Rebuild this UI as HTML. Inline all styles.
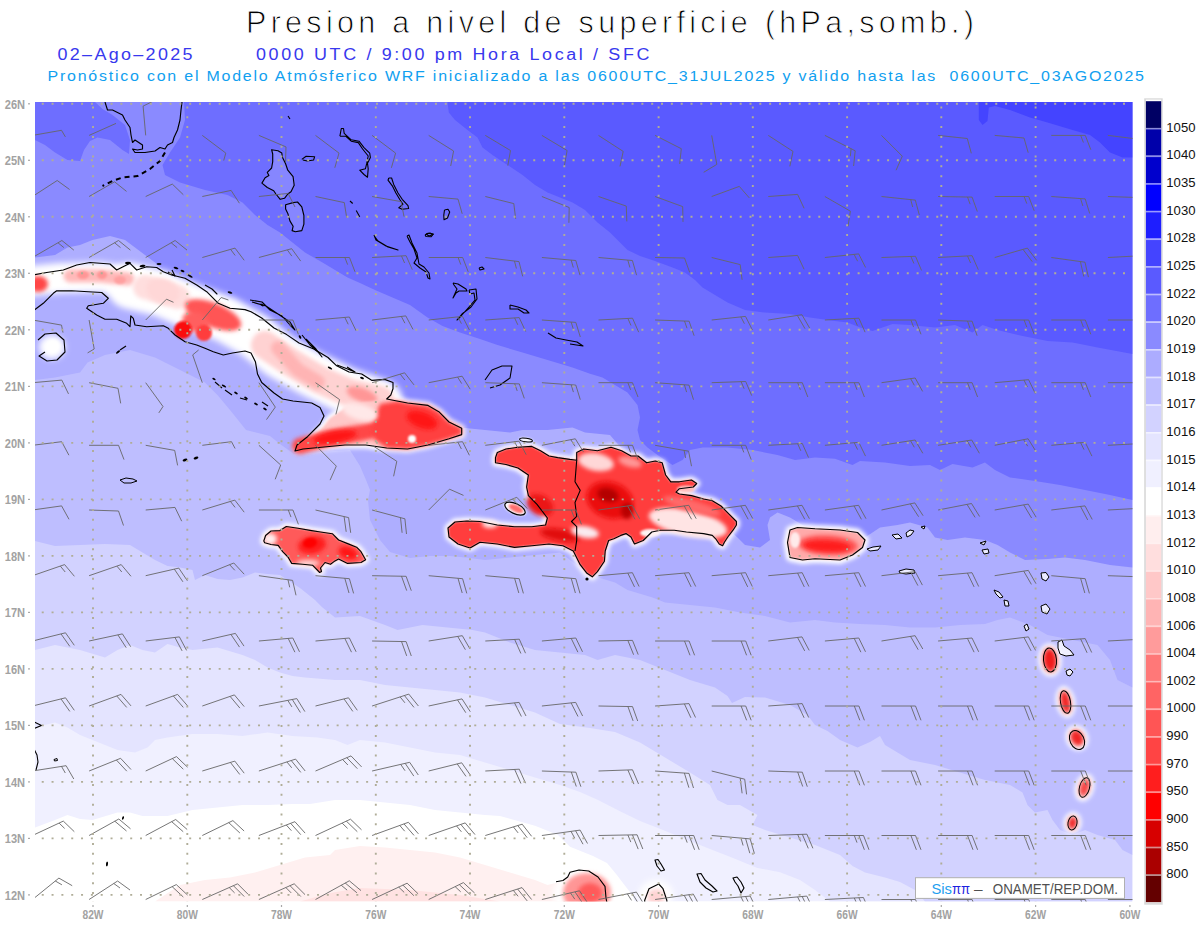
<!DOCTYPE html>
<html><head><meta charset="utf-8"><style>
html,body{margin:0;padding:0;background:#fff;}
svg{display:block;}
text{font-family:"Liberation Sans",sans-serif;}
.ax{font-size:12.5px;fill:#a2a2a2;font-weight:bold;}
.cb{font-size:12.8px;fill:#111;}
</style></head><body>
<svg width="1200" height="927" viewBox="0 0 1200 927">
<defs><filter id="b1" filterUnits="userSpaceOnUse" x="0" y="0" width="1200" height="927"><feGaussianBlur stdDeviation="1.2"/></filter>
<filter id="b2" filterUnits="userSpaceOnUse" x="0" y="0" width="1200" height="927"><feGaussianBlur stdDeviation="2.2"/></filter>
<filter id="b3" filterUnits="userSpaceOnUse" x="0" y="0" width="1200" height="927"><feGaussianBlur stdDeviation="3.2"/></filter>
<filter id="b5" filterUnits="userSpaceOnUse" x="0" y="0" width="1200" height="927"><feGaussianBlur stdDeviation="5"/></filter><clipPath id="mc"><rect x="35" y="102" width="1097.5" height="799.5"/></clipPath></defs>
<g clip-path="url(#mc)">
<rect x="35" y="102" width="1097.5" height="799.5" fill="#fff"/>
<polygon points="155.0,901.5 180.0,885.0 205.0,880.0 230.0,877.5 255.0,872.5 280.0,865.0 305.0,857.5 330.0,855.0 335.0,850.0 360.0,846.0 385.0,847.5 410.0,850.0 435.0,852.5 460.0,857.5 485.0,865.0 510.0,872.5 535.0,880.0 547.5,885.0 560.0,882.0 575.0,901.5" fill="rgb(255,240,240)"/>
<polygon points="300.0,901.5 330.0,893.0 360.0,888.0 410.0,890.0 460.0,895.0 500.0,901.5" fill="rgb(255,226,226)"/>
<polygon points="35.0,102.0 35.0,827.5 55.0,820.0 67.5,815.0 80.0,819.0 92.5,820.0 117.5,812.5 130.0,812.5 142.5,816.0 167.5,816.0 192.5,810.0 217.5,807.5 242.5,805.0 267.5,805.0 292.5,804.0 310.0,804.0 335.0,800.0 360.0,800.0 385.0,802.5 410.0,805.0 435.0,810.0 460.0,812.5 485.0,815.0 500.0,816.0 535.0,825.7 558.0,835.0 570.0,846.7 593.0,856.0 607.0,863.0 616.7,874.7 623.7,884.0 630.7,893.0 635.0,901.5 1132.5,901.5 1132.5,102.0" fill="rgb(240,240,255)"/>
<polygon points="35.0,102.0 35.0,727.5 55.0,722.5 67.5,727.5 80.0,735.0 92.5,740.0 105.0,745.0 117.5,750.0 135.0,752.5 147.5,747.5 155.0,740.0 167.5,737.5 192.5,734.0 217.5,734.0 242.5,736.0 267.5,732.5 292.5,736.0 317.5,737.5 335.0,740.0 347.5,745.0 360.0,740.0 385.0,742.5 410.0,747.5 435.0,752.5 460.0,755.0 485.0,762.5 510.0,770.0 535.0,777.5 560.0,785.0 580.0,792.0 598.0,800.0 621.0,811.7 640.0,821.0 663.0,830.0 686.7,839.7 710.0,849.0 733.0,858.0 756.7,867.7 780.0,872.3 800.0,880.0 815.0,890.0 830.0,901.5 1132.5,901.5 1132.5,102.0" fill="rgb(228,228,255)"/>
<polygon points="35.0,102.0 35.0,650.0 55.0,645.0 80.0,650.0 105.0,657.5 117.5,650.0 130.0,645.0 142.5,650.0 155.0,652.5 167.5,644.0 180.0,647.5 192.5,650.0 217.5,647.5 242.5,655.0 255.0,660.0 267.5,667.5 280.0,672.5 292.5,676.0 305.0,677.5 335.0,680.0 360.0,680.0 385.0,685.0 410.0,687.5 435.0,690.0 460.0,692.5 485.0,697.5 510.0,705.0 535.0,712.5 560.0,724.0 590.0,728.0 615.0,732.0 640.0,742.5 665.0,757.5 690.0,772.5 710.0,785.0 717.5,800.0 727.5,805.0 740.0,805.0 757.5,815.0 752.5,825.0 765.0,830.0 790.0,837.5 815.0,845.0 840.0,855.0 852.5,866.0 865.0,872.5 885.0,877.5 900.0,882.0 915.0,890.0 925.0,901.5 1132.5,901.5 1132.5,102.0" fill="rgb(210,210,255)"/>
<polygon points="35.0,102.0 35.0,541.0 55.0,546.0 80.0,545.0 105.0,544.0 130.0,545.0 142.5,552.5 155.0,560.0 167.5,566.0 180.0,567.5 192.5,570.0 195.0,580.0 205.0,575.0 217.5,579.0 230.0,580.0 242.5,577.5 255.0,572.5 267.5,574.0 280.0,575.0 300.0,588.0 315.0,600.0 322.5,607.5 335.0,617.5 360.0,616.0 385.0,625.0 397.5,630.0 410.0,627.5 422.5,625.0 447.5,627.5 472.5,630.0 485.0,632.5 510.0,642.5 535.0,650.0 560.0,652.5 585.0,655.0 597.5,660.0 615.0,655.0 640.0,660.0 665.0,670.0 690.0,680.0 715.0,687.5 727.5,696.0 732.0,703.0 745.0,697.0 765.0,697.5 790.0,705.0 807.5,715.0 815.0,725.0 827.5,731.0 840.0,740.0 857.5,747.5 870.0,742.0 880.0,736.0 885.0,745.0 897.5,752.5 910.0,760.0 935.0,765.0 960.0,772.5 985.0,780.0 1010.0,785.0 1022.5,792.5 1027.5,805.0 1035.0,812.5 1047.5,810.0 1052.5,820.0 1060.0,830.0 1072.5,835.0 1085.0,830.0 1097.5,835.0 1115.0,840.0 1122.5,850.0 1132.5,855.0 1132.5,102.0" fill="rgb(190,190,255)"/>
<polygon points="35.0,102.0 35.0,380.0 55.0,377.5 80.0,372.5 87.5,362.5 105.0,355.0 130.0,350.0 155.0,357.5 180.0,370.0 205.0,382.5 217.5,395.0 230.0,410.0 246.0,430.0 270.0,436.0 280.0,444.0 294.0,454.0 320.0,452.0 350.0,450.0 360.0,466.0 366.0,480.0 370.0,490.0 368.0,500.0 370.0,520.0 380.0,540.0 390.0,552.0 410.0,558.0 430.0,556.0 450.0,556.0 470.0,558.0 485.0,560.0 510.0,557.5 535.0,555.0 560.0,552.5 590.0,575.0 615.0,582.5 627.5,590.0 652.5,597.5 665.0,602.5 690.0,605.0 715.0,607.5 740.0,612.5 765.0,616.0 790.0,622.5 815.0,620.0 835.0,622.5 860.0,624.0 885.0,625.0 910.0,627.5 935.0,627.5 960.0,625.0 985.0,624.0 997.5,620.0 1010.0,617.5 1030.0,625.0 1047.5,635.0 1072.5,640.0 1097.5,645.0 1110.0,660.0 1117.5,680.0 1132.5,687.5 1132.5,102.0" fill="rgb(174,174,255)"/>
<polygon points="35.0,102.0 35.0,257.5 55.0,255.0 67.5,247.5 80.0,245.0 92.5,240.0 110.0,236.0 125.0,240.0 135.0,247.5 145.0,255.0 155.0,262.5 160.0,267.5 200.0,300.0 250.0,330.0 300.0,370.0 350.0,400.0 400.0,420.0 440.0,425.0 465.0,428.0 485.0,430.0 510.0,432.5 522.5,430.0 547.5,430.0 572.5,427.5 585.0,432.5 610.0,435.0 640.0,470.0 690.0,495.0 737.5,537.5 745.0,545.0 760.0,547.5 770.0,540.0 767.5,525.0 770.0,517.5 777.5,512.5 790.0,517.5 802.5,525.0 830.0,540.0 865.0,537.5 880.0,527.5 897.5,525.0 910.0,522.5 927.5,527.5 935.0,537.5 947.5,540.0 965.0,537.5 985.0,540.0 997.5,545.0 1010.0,552.5 1025.0,560.0 1047.5,559.0 1065.0,557.5 1085.0,560.0 1110.0,565.0 1132.5,567.5 1132.5,102.0" fill="rgb(138,138,255)"/>
<polygon points="184.0,102.0 185.0,120.0 180.0,137.5 170.0,152.5 162.5,165.0 165.0,175.0 180.0,182.5 205.0,190.0 227.5,195.0 242.5,202.5 255.0,215.0 267.5,225.0 280.0,232.5 292.5,242.5 305.0,252.5 322.5,262.5 335.0,270.0 347.5,277.5 360.0,283.0 375.0,290.0 392.5,297.5 410.0,305.0 427.5,317.5 442.5,326.0 460.0,332.5 480.0,339.0 497.5,345.0 522.5,352.5 547.5,360.0 572.5,367.5 590.0,373.8 602.5,377.5 615.0,385.0 627.5,392.5 637.5,405.0 640.0,417.5 637.5,430.0 640.0,440.0 647.5,447.5 657.5,455.0 672.5,465.0 682.5,460.0 690.0,450.0 702.5,447.5 727.5,447.5 752.5,450.0 777.5,455.0 795.0,460.0 815.0,457.5 835.0,458.8 852.5,465.0 860.0,461.0 885.0,462.5 910.0,466.0 930.0,465.0 940.0,470.0 952.5,464.0 972.5,467.5 985.0,462.5 995.0,470.0 1010.0,477.5 1035.0,481.0 1060.0,485.0 1085.0,490.0 1110.0,495.0 1132.5,500.0 1132.5,102.0" fill="rgb(110,110,255)"/>
<polygon points="35.0,102.0 95.0,102.0 102.5,109.0 112.5,115.0 125.0,125.0 130.0,140.0 129.0,154.0 122.5,150.0 110.0,140.0 97.5,137.5 90.0,141.0 84.0,150.0 80.0,161.0 67.5,160.0 55.0,152.5 45.0,145.0 35.0,140.0" fill="rgb(110,110,255)"/>
<polygon points="447.5,102.0 448.8,112.5 455.0,120.0 467.5,130.0 477.5,137.5 482.5,147.5 492.5,155.0 507.5,165.0 522.5,175.0 535.0,185.0 547.5,192.5 560.0,197.5 572.5,202.5 585.0,210.0 597.5,222.5 610.0,232.5 627.5,250.0 640.0,256.0 655.0,261.0 672.5,267.5 685.0,272.5 695.0,280.0 702.5,287.5 715.0,295.0 727.5,302.5 745.0,310.0 765.0,312.5 790.0,314.0 810.0,317.5 835.0,321.0 847.5,322.5 860.0,327.5 872.5,331.0 892.5,324.0 910.0,325.0 935.0,327.5 955.0,325.0 972.5,332.5 982.5,325.0 997.5,330.0 1022.5,336.0 1047.5,341.0 1072.5,342.5 1097.5,347.5 1132.5,354.0 1132.5,102.0" fill="rgb(90,90,255)"/>
<polygon points="978.8,102.0 978.8,120.0 982.5,125.0 987.5,121.0 988.8,107.5 995.0,106.0 1010.0,110.0 1030.0,117.5 1047.5,122.5 1072.5,130.0 1090.0,135.0 1100.0,142.5 1110.0,152.5 1122.5,157.5 1132.5,157.5 1132.5,102.0" fill="rgb(68,68,255)"/>
<path d="M30.0,281.0 L60.0,278.0 L100.0,277.0 L130.0,281.0" fill="none" stroke="#ffffff" stroke-width="30" stroke-linecap="round" stroke-linejoin="round" filter="url(#b3)"/>
<path d="M130.0,286.0 L160.0,293.0 L190.0,306.0 L225.0,319.0 L255.0,336.0 L280.0,356.0 L310.0,373.0 L345.0,390.0 L380.0,402.0" fill="none" stroke="#ffffff" stroke-width="46" stroke-linecap="round" stroke-linejoin="round" filter="url(#b3)"/>
<path d="M297.0,449.0 L310.0,440.0 L322.0,428.0 L330.0,418.0 L345.0,408.0 L365.0,402.0 L385.0,400.0 L397.0,401.0 L407.5,403.0 L428.0,405.4 L438.8,411.7 L449.0,422.0 L461.7,428.3 L461.7,434.6 L449.0,438.8 L428.0,445.0 L407.5,449.0 L386.7,448.0 L365.8,445.0 L345.0,445.0 L324.0,447.0 L303.0,449.0 Z" fill="#ffffff" stroke="#ffffff" stroke-width="7" stroke-linejoin="round" filter="url(#b2)"/>
<path d="M495.5,457.6 L497.3,452.5 L506.0,449.0 L518.0,447.3 L531.8,446.4 L540.5,450.7 L549.0,456.0 L557.7,457.6 L569.8,459.4 L576.7,460.2 L576.7,452.5 L583.6,449.0 L597.4,450.7 L611.0,447.3 L621.6,450.7 L631.0,456.0 L638.0,456.0 L646.6,462.8 L655.3,461.0 L662.2,462.8 L665.6,475.0 L670.8,481.8 L679.4,481.8 L691.5,480.0 L696.7,483.5 L693.3,487.0 L679.4,488.7 L676.0,492.2 L679.4,494.0 L691.5,495.6 L703.6,499.0 L712.3,500.8 L721.0,506.0 L729.5,514.6 L736.4,521.5 L736.4,525.0 L733.0,530.2 L727.8,537.0 L724.4,542.3 L722.6,545.7 L719.2,544.0 L715.7,538.8 L712.3,535.4 L703.6,533.6 L686.4,532.0 L674.3,530.2 L660.4,530.2 L651.8,532.0 L643.2,540.5 L634.5,544.0 L631.0,537.0 L626.0,533.6 L620.7,535.4 L613.8,538.8 L608.6,540.5 L605.2,551.0 L604.4,561.3 L597.4,571.6 L592.3,576.8 L587.0,573.3 L580.2,564.7 L573.3,551.0 L562.9,545.7 L549.0,544.0 L531.8,545.7 L514.5,547.4 L497.3,544.0 L480.0,542.3 L470.0,548.0 L458.0,544.0 L449.0,537.0 L448.0,528.0 L455.0,522.0 L467.0,521.0 L480.0,521.5 L497.3,525.0 L514.5,526.7 L531.8,526.7 L545.6,525.0 L547.4,518.0 L537.0,504.3 L528.4,495.6 L526.6,487.0 L528.4,475.0 L518.0,468.0 L506.0,464.5 L495.5,462.8 Z" fill="#ffffff" stroke="#ffffff" stroke-width="7" stroke-linejoin="round" filter="url(#b2)"/>
<path d="M263.8,541.0 L265.6,535.5 L271.0,531.0 L280.0,530.6 L286.3,526.5 L298.0,528.3 L311.5,530.6 L320.5,532.0 L332.3,533.7 L338.6,540.0 L347.6,543.6 L356.6,547.2 L361.0,551.7 L365.6,559.8 L361.0,562.5 L347.6,563.4 L338.6,559.0 L334.0,561.6 L330.5,564.3 L325.0,562.5 L320.5,568.0 L321.5,571.5 L319.7,572.5 L312.5,565.2 L302.5,564.3 L291.7,563.4 L288.0,557.0 L282.7,551.7 L278.2,545.4 L271.0,544.5 L264.7,542.7 Z" fill="#ffffff" stroke="#ffffff" stroke-width="7" stroke-linejoin="round" filter="url(#b2)"/>
<path d="M790.0,530.0 L797.5,527.5 L815.0,528.8 L840.0,530.0 L857.5,532.5 L865.0,540.0 L862.5,547.5 L852.5,555.0 L840.0,560.0 L815.0,558.8 L802.5,560.0 L790.0,557.5 L787.5,542.5 Z" fill="#ffffff" stroke="#ffffff" stroke-width="8" stroke-linejoin="round" filter="url(#b2)"/>
<ellipse cx="52" cy="347" rx="13" ry="12" transform="rotate(0 52 347)" fill="#ffffff" filter="url(#b3)"/>
<ellipse cx="53" cy="346" rx="6" ry="6" transform="rotate(0 53 346)" fill="#ffffff" filter="url(#b1)"/>
<path d="M70.0,276.0 L100.0,276.0 L128.0,279.0" fill="none" stroke="rgb(255,185,185)" stroke-width="13" stroke-linecap="round" stroke-linejoin="round" filter="url(#b2)"/>
<ellipse cx="83" cy="275" rx="6" ry="4" transform="rotate(0 83 275)" fill="rgb(255,150,150)" filter="url(#b1)"/>
<ellipse cx="102" cy="275" rx="5" ry="4" transform="rotate(0 102 275)" fill="rgb(255,150,150)" filter="url(#b1)"/>
<ellipse cx="120" cy="280" rx="6" ry="4" transform="rotate(0 120 280)" fill="rgb(255,160,160)" filter="url(#b1)"/>
<ellipse cx="38" cy="284" rx="10" ry="8" transform="rotate(0 38 284)" fill="rgb(255,70,70)" filter="url(#b2)"/>
<path d="M145.0,287.0 L178.0,297.0" fill="none" stroke="rgb(255,222,222)" stroke-width="24" stroke-linecap="round" stroke-linejoin="round" filter="url(#b2)"/>
<ellipse cx="163" cy="291" rx="17" ry="12" transform="rotate(20 163 291)" fill="rgb(255,215,215)" filter="url(#b2)"/>
<ellipse cx="213" cy="315" rx="30" ry="12" transform="rotate(22 213 315)" fill="rgb(255,85,85)" filter="url(#b2)"/>
<ellipse cx="196" cy="322" rx="14" ry="10" transform="rotate(20 196 322)" fill="rgb(255,95,95)" filter="url(#b2)"/>
<ellipse cx="183" cy="330" rx="9" ry="9" transform="rotate(0 183 330)" fill="rgb(250,15,15)" filter="url(#b1)"/>
<ellipse cx="204" cy="333" rx="8" ry="8" transform="rotate(0 204 333)" fill="rgb(255,60,60)" filter="url(#b1)"/>
<path d="M265.0,345.0 L290.0,362.0 L320.0,380.0 L350.0,393.0 L380.0,400.0" fill="none" stroke="rgb(255,210,210)" stroke-width="28" stroke-linecap="round" stroke-linejoin="round" filter="url(#b2)"/>
<path d="M278.0,348.0 L298.0,370.0 L318.0,382.0" fill="none" stroke="rgb(255,180,180)" stroke-width="14" stroke-linecap="round" stroke-linejoin="round" filter="url(#b2)"/>
<ellipse cx="362" cy="395" rx="16" ry="7" transform="rotate(20 362 395)" fill="rgb(255,150,150)" filter="url(#b2)"/>
<path d="M297.0,449.0 L310.0,440.0 L322.0,428.0 L330.0,418.0 L345.0,408.0 L365.0,402.0 L385.0,400.0 L397.0,401.0 L407.5,403.0 L428.0,405.4 L438.8,411.7 L449.0,422.0 L461.7,428.3 L461.7,434.6 L449.0,438.8 L428.0,445.0 L407.5,449.0 L386.7,448.0 L365.8,445.0 L345.0,445.0 L324.0,447.0 L303.0,449.0 Z" fill="rgb(255,200,200)" filter="url(#b1)"/>
<path d="M300.0,446.0 L330.0,438.0 L360.0,433.0 L385.0,428.0" fill="none" stroke="rgb(255,70,70)" stroke-width="16" stroke-linecap="round" stroke-linejoin="round" filter="url(#b2)"/>
<path d="M380.0,404.0 L397.0,401.0 L407.5,403.0 L428.0,405.4 L438.8,411.7 L449.0,422.0 L461.7,428.3 L461.7,434.6 L449.0,438.8 L428.0,445.0 L407.5,449.0 L386.7,448.0 L375.0,440.0 L372.0,425.0 Z" fill="rgb(255,65,65)" filter="url(#b2)"/>
<ellipse cx="335" cy="437" rx="22" ry="6" transform="rotate(-10 335 437)" fill="rgb(255,25,25)" filter="url(#b2)"/>
<ellipse cx="422" cy="420" rx="16" ry="8" transform="rotate(20 422 420)" fill="rgb(255,20,20)" filter="url(#b2)"/>
<ellipse cx="412" cy="439" rx="4" ry="4" transform="rotate(0 412 439)" fill="#fff" filter="url(#b1)"/>
<ellipse cx="360" cy="412" rx="18" ry="8" transform="rotate(15 360 412)" fill="rgb(255,232,232)" filter="url(#b2)"/>
<path d="M495.5,457.6 L497.3,452.5 L506.0,449.0 L518.0,447.3 L531.8,446.4 L540.5,450.7 L549.0,456.0 L557.7,457.6 L569.8,459.4 L576.7,460.2 L576.7,452.5 L583.6,449.0 L597.4,450.7 L611.0,447.3 L621.6,450.7 L631.0,456.0 L638.0,456.0 L646.6,462.8 L655.3,461.0 L662.2,462.8 L665.6,475.0 L670.8,481.8 L679.4,481.8 L691.5,480.0 L696.7,483.5 L693.3,487.0 L679.4,488.7 L676.0,492.2 L679.4,494.0 L691.5,495.6 L703.6,499.0 L712.3,500.8 L721.0,506.0 L729.5,514.6 L736.4,521.5 L736.4,525.0 L733.0,530.2 L727.8,537.0 L724.4,542.3 L722.6,545.7 L719.2,544.0 L715.7,538.8 L712.3,535.4 L703.6,533.6 L686.4,532.0 L674.3,530.2 L660.4,530.2 L651.8,532.0 L643.2,540.5 L634.5,544.0 L631.0,537.0 L626.0,533.6 L620.7,535.4 L613.8,538.8 L608.6,540.5 L605.2,551.0 L604.4,561.3 L597.4,571.6 L592.3,576.8 L587.0,573.3 L580.2,564.7 L573.3,551.0 L562.9,545.7 L549.0,544.0 L531.8,545.7 L514.5,547.4 L497.3,544.0 L480.0,542.3 L470.0,548.0 L458.0,544.0 L449.0,537.0 L448.0,528.0 L455.0,522.0 L467.0,521.0 L480.0,521.5 L497.3,525.0 L514.5,526.7 L531.8,526.7 L545.6,525.0 L547.4,518.0 L537.0,504.3 L528.4,495.6 L526.6,487.0 L528.4,475.0 L518.0,468.0 L506.0,464.5 L495.5,462.8 Z" fill="rgb(255,60,60)" filter="url(#b1)"/>
<ellipse cx="610" cy="500" rx="24" ry="18" transform="rotate(20 610 500)" fill="rgb(235,10,10)" filter="url(#b2)"/>
<ellipse cx="608" cy="495" rx="11" ry="7" transform="rotate(15 608 495)" fill="rgb(180,0,0)" filter="url(#b2)"/>
<ellipse cx="627" cy="511" rx="6" ry="8" transform="rotate(0 627 511)" fill="rgb(185,0,0)" filter="url(#b2)"/>
<ellipse cx="560" cy="535" rx="20" ry="6" transform="rotate(10 560 535)" fill="rgb(225,10,10)" filter="url(#b2)"/>
<ellipse cx="596" cy="462" rx="18" ry="9" transform="rotate(10 596 462)" fill="rgb(255,215,215)" filter="url(#b2)"/>
<ellipse cx="630" cy="462" rx="12" ry="5" transform="rotate(15 630 462)" fill="rgb(255,150,150)" filter="url(#b2)"/>
<ellipse cx="585" cy="532" rx="14" ry="6" transform="rotate(10 585 532)" fill="rgb(250,235,240)" filter="url(#b2)"/>
<ellipse cx="490" cy="524" rx="8" ry="4" transform="rotate(0 490 524)" fill="rgb(255,235,235)" filter="url(#b2)"/>
<ellipse cx="688" cy="523" rx="40" ry="13" transform="rotate(12 688 523)" fill="rgb(255,228,228)" filter="url(#b2)"/>
<ellipse cx="692" cy="506" rx="30" ry="6" transform="rotate(16 692 506)" fill="rgb(255,105,105)" filter="url(#b2)"/>
<ellipse cx="686" cy="489" rx="9" ry="3.5" transform="rotate(0 686 489)" fill="rgb(255,190,190)" filter="url(#b1)"/>
<ellipse cx="650" cy="533" rx="10" ry="4" transform="rotate(0 650 533)" fill="rgb(255,242,242)" filter="url(#b1)"/>
<ellipse cx="540" cy="505" rx="14" ry="10" transform="rotate(30 540 505)" fill="rgb(235,25,25)" filter="url(#b2)"/>
<path d="M263.8,541.0 L265.6,535.5 L271.0,531.0 L280.0,530.6 L286.3,526.5 L298.0,528.3 L311.5,530.6 L320.5,532.0 L332.3,533.7 L338.6,540.0 L347.6,543.6 L356.6,547.2 L361.0,551.7 L365.6,559.8 L361.0,562.5 L347.6,563.4 L338.6,559.0 L334.0,561.6 L330.5,564.3 L325.0,562.5 L320.5,568.0 L321.5,571.5 L319.7,572.5 L312.5,565.2 L302.5,564.3 L291.7,563.4 L288.0,557.0 L282.7,551.7 L278.2,545.4 L271.0,544.5 L264.7,542.7 Z" fill="rgb(255,90,90)" filter="url(#b1)"/>
<ellipse cx="270" cy="539" rx="7" ry="6" transform="rotate(0 270 539)" fill="rgb(255,238,238)" filter="url(#b2)"/>
<ellipse cx="312" cy="545" rx="14" ry="9" transform="rotate(-10 312 545)" fill="rgb(255,30,30)" filter="url(#b2)"/>
<ellipse cx="310" cy="543" rx="7" ry="5" transform="rotate(-10 310 543)" fill="rgb(255,0,0)" filter="url(#b1)"/>
<ellipse cx="348" cy="553" rx="10" ry="6" transform="rotate(20 348 553)" fill="rgb(255,20,20)" filter="url(#b2)"/>
<ellipse cx="308" cy="563" rx="12" ry="3" transform="rotate(0 308 563)" fill="rgb(255,220,220)" filter="url(#b2)"/>
<path d="M790.0,530.0 L797.5,527.5 L815.0,528.8 L840.0,530.0 L857.5,532.5 L865.0,540.0 L862.5,547.5 L852.5,555.0 L840.0,560.0 L815.0,558.8 L802.5,560.0 L790.0,557.5 L787.5,542.5 Z" fill="rgb(255,170,170)" filter="url(#b1)"/>
<ellipse cx="828" cy="545" rx="30" ry="10" transform="rotate(3 828 545)" fill="rgb(255,90,90)" filter="url(#b2)"/>
<ellipse cx="827" cy="546" rx="24" ry="6" transform="rotate(3 827 546)" fill="rgb(255,30,30)" filter="url(#b2)"/>
<ellipse cx="795" cy="540" rx="5" ry="8" transform="rotate(0 795 540)" fill="rgb(255,235,235)" filter="url(#b1)"/>
<ellipse cx="515" cy="508.6" rx="12" ry="5.5" transform="rotate(25 515 508.6)" fill="#fff" filter="url(#b1)"/>
<ellipse cx="516" cy="508.6" rx="8" ry="3.5" transform="rotate(25 516 508.6)" fill="rgb(255,110,110)" filter="url(#b1)"/>
<ellipse cx="1050" cy="660" rx="11.5" ry="16.5" transform="rotate(-5 1050 660)" fill="#fff" filter="url(#b2)"/>
<ellipse cx="1050" cy="660" rx="7.0" ry="12.0" transform="rotate(-5 1050 660)" fill="rgb(240,30,30)" filter="url(#b2)"/>
<ellipse cx="1065.5" cy="702" rx="9.5" ry="16" transform="rotate(-10 1065.5 702)" fill="#fff" filter="url(#b2)"/>
<ellipse cx="1065.5" cy="702" rx="5.0" ry="11.5" transform="rotate(-10 1065.5 702)" fill="rgb(240,40,40)" filter="url(#b2)"/>
<ellipse cx="1077" cy="738" rx="11" ry="13" transform="rotate(-25 1077 738)" fill="#fff" filter="url(#b2)"/>
<ellipse cx="1077" cy="738" rx="6.5" ry="8.5" transform="rotate(-25 1077 738)" fill="rgb(240,40,40)" filter="url(#b2)"/>
<ellipse cx="1084.5" cy="787.5" rx="9.5" ry="14" transform="rotate(15 1084.5 787.5)" fill="#fff" filter="url(#b2)"/>
<ellipse cx="1084.5" cy="787.5" rx="5.0" ry="9.5" transform="rotate(15 1084.5 787.5)" fill="rgb(245,70,70)" filter="url(#b2)"/>
<ellipse cx="1072.5" cy="823" rx="9" ry="11" transform="rotate(10 1072.5 823)" fill="#fff" filter="url(#b2)"/>
<ellipse cx="1072.5" cy="823" rx="4.5" ry="6.5" transform="rotate(10 1072.5 823)" fill="rgb(240,40,40)" filter="url(#b2)"/>
<ellipse cx="585" cy="895" rx="32" ry="26" transform="rotate(0 585 895)" fill="#fff" filter="url(#b3)"/>
<ellipse cx="587" cy="893" rx="24" ry="20" transform="rotate(0 587 893)" fill="rgb(255,150,150)" filter="url(#b2)"/>
<ellipse cx="590" cy="893" rx="12" ry="10" transform="rotate(0 590 893)" fill="rgb(255,90,90)" filter="url(#b2)"/>
<ellipse cx="656" cy="895" rx="17" ry="15" transform="rotate(0 656 895)" fill="#fff" filter="url(#b3)"/>
<ellipse cx="656" cy="897" rx="9" ry="8" transform="rotate(0 656 897)" fill="rgb(255,212,212)" filter="url(#b2)"/>
<path d="M271.6,149.7 L278.0,150.8 L281.8,153.0 L282.4,157.3 L285.6,163.7 L287.8,170.2 L293.1,176.7 L294.2,185.3 L291.0,191.8 L287.8,194.0 L284.5,198.3 L280.2,199.3 L275.9,194.0 L273.7,190.7 L267.3,187.5 L261.9,183.1 L265.1,177.8 L268.9,175.6 L267.3,172.4 L271.6,168.0 L272.7,161.6 L272.7,154.0 Z" fill="rgb(134,134,255)" filter="url(#b1)"/>
<path d="M285.6,204.7 L293.1,202.6 L297.5,202.0 L301.8,206.9 L303.9,215.5 L303.9,224.1 L301.8,230.6 L295.3,231.7 L292.1,230.6 L293.1,226.3 L289.9,220.9 L287.8,213.4 L285.6,209.0 Z" fill="rgb(134,134,255)" filter="url(#b1)"/>
<ellipse cx="526" cy="440" rx="7" ry="2.2" transform="rotate(8 526 440)" fill="#fff" filter="url(#b1)"/>
<ellipse cx="526" cy="440" rx="6.5" ry="1.8" transform="rotate(8 526 440)" fill="none" stroke="#000" stroke-width="1"/>
<ellipse cx="128" cy="263" rx="3" ry="1.2" transform="rotate(0 128 263)" fill="#000"/>
<ellipse cx="142.5" cy="266" rx="3" ry="1.2" transform="rotate(-10 142.5 266)" fill="#000"/>
<ellipse cx="159" cy="264" rx="2.5" ry="1" transform="rotate(0 159 264)" fill="#000"/>
<ellipse cx="176" cy="268" rx="2.5" ry="1" transform="rotate(20 176 268)" fill="#000"/>
<ellipse cx="182.5" cy="271" rx="2" ry="1" transform="rotate(20 182.5 271)" fill="#000"/>
<ellipse cx="190" cy="276" rx="3" ry="1" transform="rotate(30 190 276)" fill="#000"/>
<ellipse cx="230" cy="292.5" rx="2.5" ry="1" transform="rotate(20 230 292.5)" fill="#000"/>
<ellipse cx="262" cy="305" rx="2" ry="1" transform="rotate(30 262 305)" fill="#000"/>
<ellipse cx="300" cy="337" rx="2" ry="1" transform="rotate(60 300 337)" fill="#000"/>
<ellipse cx="330" cy="368" rx="2.5" ry="1" transform="rotate(30 330 368)" fill="#000"/>
<ellipse cx="362" cy="378" rx="2" ry="1" transform="rotate(20 362 378)" fill="#000"/>
<ellipse cx="214" cy="379" rx="1.8" ry="1" transform="rotate(30 214 379)" fill="#000"/>
<ellipse cx="224" cy="386" rx="2.5" ry="1" transform="rotate(30 224 386)" fill="#000"/>
<ellipse cx="236" cy="393" rx="2" ry="1" transform="rotate(30 236 393)" fill="#000"/>
<ellipse cx="246" cy="398" rx="2" ry="1" transform="rotate(30 246 398)" fill="#000"/>
<ellipse cx="256" cy="404" rx="2" ry="1" transform="rotate(30 256 404)" fill="#000"/>
<ellipse cx="265" cy="409" rx="2" ry="1" transform="rotate(30 265 409)" fill="#000"/>
<ellipse cx="118" cy="352" rx="2.5" ry="1" transform="rotate(-40 118 352)" fill="#000"/>
<path d="M34.0,722.0 L41.5,725.5 L34.0,728.5" fill="none" stroke="#000" stroke-width="1.1" stroke-linejoin="round"/>
<path d="M34.0,749.0 L37.0,755.0 L38.0,762.0 L36.0,770.0" fill="none" stroke="#000" stroke-width="1.1" stroke-linejoin="round"/>
<path d="M120.0,480.0 L126.0,478.0 L133.0,479.0 L137.0,481.0 L131.0,483.0 L124.0,483.0 Z" fill="none" stroke="#000" stroke-width="1.0" stroke-linejoin="round"/>
<path d="M54.0,759.5 L57.0,758.5 L57.5,760.5 L54.5,761.0 Z" fill="none" stroke="#000" stroke-width="1.0" stroke-linejoin="round"/>
<ellipse cx="185" cy="460" rx="2.5" ry="1.2" transform="rotate(-20 185 460)" fill="#000"/>
<ellipse cx="196" cy="458" rx="2.5" ry="1.2" transform="rotate(-20 196 458)" fill="#000"/>
<ellipse cx="107" cy="864" rx="1" ry="2.4" transform="rotate(10 107 864)" fill="#000"/>
<ellipse cx="123" cy="818" rx="0.9" ry="1.8" transform="rotate(20 123 818)" fill="#000"/>
<ellipse cx="587" cy="579" rx="1.6" ry="1.6" transform="rotate(0 587 579)" fill="#000"/>
<path d="M339.9,136.2 L341.3,128.5 L343.5,128.5 L344.2,133.4 L351.2,139.8 L359.0,141.2 L364.0,147.6 L369.7,153.2 L370.4,157.5 L367.5,163.2 L368.2,168.8 L367.5,177.3 L364.0,174.5 L359.7,170.2 L365.4,168.8 L366.8,163.2 L368.2,156.0 L362.6,149.0 L358.3,142.6 L351.2,141.2 L345.6,136.2 L339.9,136.2" fill="none" stroke="#000" stroke-width="1.1" stroke-linejoin="round"/>
<path d="M388.8,178.0 L391.6,178.0 L393.7,184.4 L398.0,193.0 L402.2,199.3 L408.0,205.7 L408.6,208.5 L402.2,209.2 L398.7,207.8 L403.0,204.2 L400.1,200.0 L395.9,193.0 L392.3,185.8 L388.0,180.2 L388.8,178.0" fill="none" stroke="#000" stroke-width="1.1" stroke-linejoin="round"/>
<path d="M444.5,210.0 L448.0,209.2 L449.7,212.0 L447.5,218.0 L444.0,219.8 L443.8,215.0 L444.5,210.0" fill="none" stroke="#000" stroke-width="1.1" stroke-linejoin="round"/>
<path d="M425.0,235.0 L428.0,233.3 L433.4,234.0 L431.0,236.8 L426.0,236.5 L425.0,235.0" fill="none" stroke="#000" stroke-width="1.1" stroke-linejoin="round"/>
<path d="M374.0,235.0 L376.0,240.0 L386.0,246.0 L398.0,250.0 L388.0,247.0 L378.0,241.0 L375.0,237.0" fill="none" stroke="#000" stroke-width="1.1" stroke-linejoin="round"/>
<path d="M407.0,236.0 L409.0,235.0 L412.0,243.0 L417.0,253.0 L419.0,264.0 L424.0,267.0 L429.0,273.0 L430.0,279.0 L428.0,278.0 L426.0,272.0 L420.0,268.0 L414.0,263.0 L417.0,258.0 L414.0,249.0 L410.0,242.0 L407.0,236.0" fill="none" stroke="#000" stroke-width="1.1" stroke-linejoin="round"/>
<path d="M426.0,234.0 L430.0,233.0 L433.0,234.5 L429.0,236.0 L426.0,234.0" fill="none" stroke="#000" stroke-width="1.1" stroke-linejoin="round"/>
<path d="M479.0,268.0 L482.0,267.0 L484.0,269.0 L480.0,270.0 L479.0,268.0" fill="none" stroke="#000" stroke-width="1.1" stroke-linejoin="round"/>
<path d="M453.0,283.0 L458.0,284.0 L466.0,289.0 L467.0,291.0 L459.0,291.0 L456.0,293.0 L453.0,298.0 L457.0,289.0 L454.0,285.0 L453.0,283.0" fill="none" stroke="#000" stroke-width="1.1" stroke-linejoin="round"/>
<path d="M469.0,290.0 L476.0,289.0 L477.0,299.0 L471.0,307.0 L462.0,314.0 L457.0,320.0 L461.0,316.0 L469.0,307.0 L475.0,300.0 L474.0,293.0 L470.0,294.0 L469.0,290.0" fill="none" stroke="#000" stroke-width="1.1" stroke-linejoin="round"/>
<path d="M510.0,305.0 L518.0,307.0 L526.0,310.0 L529.0,313.0 L524.0,313.0 L518.0,309.0 L510.0,309.0 L510.0,305.0" fill="none" stroke="#000" stroke-width="1.1" stroke-linejoin="round"/>
<path d="M168.0,272.0 L175.0,276.0 L172.0,270.0" fill="none" stroke="#000" stroke-width="1.1" stroke-linejoin="round"/>
<path d="M205.0,285.0 L212.0,289.0 L217.0,294.0 L213.0,290.0" fill="none" stroke="#000" stroke-width="1.1" stroke-linejoin="round"/>
<path d="M250.0,300.0 L262.0,302.0 L270.0,310.0 L282.0,316.0 L290.0,325.0 L295.0,330.0 L290.0,322.0 L278.0,314.0 L266.0,306.0 L252.0,302.0" fill="none" stroke="#000" stroke-width="1.1" stroke-linejoin="round"/>
<path d="M302.0,335.0 L310.0,345.0 L318.0,352.0 L322.0,357.0 L316.0,349.0 L306.0,339.0" fill="none" stroke="#000" stroke-width="1.1" stroke-linejoin="round"/>
<path d="M337.0,365.0 L345.0,368.0 L355.0,372.0 L347.0,367.0" fill="none" stroke="#000" stroke-width="1.1" stroke-linejoin="round"/>
<path d="M38.0,340.0 L45.0,334.0 L56.0,333.0 L64.0,340.0 L65.0,352.0 L57.0,360.0 L47.0,361.0 L39.0,356.0 L45.0,352.0" fill="none" stroke="#000" stroke-width="1.1" stroke-linejoin="round"/>
<path d="M120.0,350.0 L126.0,346.0" fill="none" stroke="#000" stroke-width="1.1" stroke-linejoin="round"/>
<path d="M215.0,382.0 L222.0,388.0" fill="none" stroke="#000" stroke-width="1.1" stroke-linejoin="round"/>
<path d="M225.0,390.0 L232.0,395.0" fill="none" stroke="#000" stroke-width="1.1" stroke-linejoin="round"/>
<path d="M240.0,398.0 L247.0,400.0" fill="none" stroke="#000" stroke-width="1.1" stroke-linejoin="round"/>
<path d="M262.0,402.0 L268.0,406.0" fill="none" stroke="#000" stroke-width="1.1" stroke-linejoin="round"/>
<path d="M301.8,159.4 L306.1,156.2 L314.7,156.7 L313.6,160.0 L307.2,161.0 L302.9,160.0" fill="none" stroke="#000" stroke-width="1.1" stroke-linejoin="round"/>
<path d="M288.0,116.0 L290.0,119.0" fill="none" stroke="#000" stroke-width="1.1" stroke-linejoin="round"/>
<path d="M350.0,201.0 L352.7,203.5" fill="none" stroke="#000" stroke-width="1.1" stroke-linejoin="round"/>
<path d="M356.2,210.6 L359.7,216.7" fill="none" stroke="#000" stroke-width="1.1" stroke-linejoin="round"/>
<path d="M485.0,380.0 L492.0,370.0 L502.0,366.0 L512.0,366.0 L510.0,378.0 L500.0,385.0 L490.0,388.0" fill="none" stroke="#000" stroke-width="1.1" stroke-linejoin="round"/>
<path d="M548.0,333.0 L556.0,338.0 L566.0,340.0 L577.0,342.0 L583.0,346.0 L570.0,344.0" fill="none" stroke="#000" stroke-width="1.1" stroke-linejoin="round"/>
<path d="M33.0,275.0 L46.7,272.5 L63.3,270.0 L76.7,265.0 L90.0,262.5 L110.0,264.0 L116.7,270.0 L130.0,263.3 L136.7,270.0 L146.7,266.7 L156.7,267.5 L163.3,271.7 L171.7,275.0 L185.0,278.3 L196.7,285.0 L206.7,291.7 L218.3,303.3 L230.0,308.3 L245.0,309.6 L251.0,311.7 L261.7,318.0 L274.0,328.0 L286.7,334.6 L299.0,343.0 L313.8,349.0 L328.0,357.5 L336.7,365.8 L349.0,372.0 L361.7,374.0 L372.0,380.4 L384.6,379.4 L393.0,382.5 L393.0,388.8 L390.8,395.0 L386.7,399.0 L397.0,401.0 L407.5,403.0 L428.0,405.4 L438.8,411.7 L449.0,422.0 L461.7,428.3 L461.7,434.6 L449.0,438.8 L428.0,445.0 L418.0,447.0 L407.5,449.0 L386.7,448.0 L365.8,445.0 L345.0,445.0 L324.0,447.0 L303.0,449.0 L295.0,451.0 L297.0,445.0 L307.5,436.7 L320.0,424.0 L324.0,416.0 L320.0,407.5 L311.7,403.0 L293.0,401.0 L282.5,399.0 L274.0,393.0 L261.7,382.5 L257.5,374.0 L255.4,361.7 L251.0,353.0 L245.0,351.0 L232.5,353.0 L223.3,355.0 L213.3,351.7 L205.0,348.3 L196.7,345.0 L185.0,341.7 L175.0,335.0 L168.3,328.3 L163.3,325.8 L146.7,326.7 L135.0,325.0 L133.3,318.3 L130.8,315.8 L130.0,326.7 L126.7,323.3 L116.7,319.2 L105.0,319.2 L96.7,315.0 L86.7,308.3 L88.3,305.8 L103.3,303.3 L108.3,298.3 L101.7,292.5 L88.3,291.7 L71.7,290.8 L56.7,290.8 L53.3,293.3 L43.3,303.3 L33.0,311.0 Z" fill="none" stroke="#000" stroke-width="1.15" stroke-linejoin="round"/>
<path d="M495.5,457.6 L497.3,452.5 L506.0,449.0 L518.0,447.3 L531.8,446.4 L540.5,450.7 L549.0,456.0 L557.7,457.6 L569.8,459.4 L576.7,460.2 L576.7,452.5 L583.6,449.0 L597.4,450.7 L611.0,447.3 L621.6,450.7 L631.0,456.0 L638.0,456.0 L646.6,462.8 L655.3,461.0 L662.2,462.8 L665.6,475.0 L670.8,481.8 L679.4,481.8 L691.5,480.0 L696.7,483.5 L693.3,487.0 L679.4,488.7 L676.0,492.2 L679.4,494.0 L691.5,495.6 L703.6,499.0 L712.3,500.8 L721.0,506.0 L729.5,514.6 L736.4,521.5 L736.4,525.0 L733.0,530.2 L727.8,537.0 L724.4,542.3 L722.6,545.7 L719.2,544.0 L715.7,538.8 L712.3,535.4 L703.6,533.6 L686.4,532.0 L674.3,530.2 L660.4,530.2 L651.8,532.0 L643.2,540.5 L634.5,544.0 L631.0,537.0 L626.0,533.6 L620.7,535.4 L613.8,538.8 L608.6,540.5 L605.2,551.0 L604.4,561.3 L597.4,571.6 L592.3,576.8 L587.0,573.3 L580.2,564.7 L573.3,551.0 L562.9,545.7 L549.0,544.0 L531.8,545.7 L514.5,547.4 L497.3,544.0 L480.0,542.3 L470.0,548.0 L458.0,544.0 L449.0,537.0 L448.0,528.0 L455.0,522.0 L467.0,521.0 L480.0,521.5 L497.3,525.0 L514.5,526.7 L531.8,526.7 L545.6,525.0 L547.4,518.0 L537.0,504.3 L528.4,495.6 L526.6,487.0 L528.4,475.0 L518.0,468.0 L506.0,464.5 L495.5,462.8 Z" fill="none" stroke="#000" stroke-width="1.15" stroke-linejoin="round"/>
<path d="M576.7,460.2 L575.0,481.8 L580.2,490.4 L575.0,502.5 L576.7,516.4 L571.5,521.5 L576.7,526.7 L576.7,540.5 L575.0,551.0" fill="none" stroke="#000" stroke-width="1.1" stroke-linejoin="round"/>
<path d="M263.8,541.0 L265.6,535.5 L271.0,531.0 L280.0,530.6 L286.3,526.5 L298.0,528.3 L311.5,530.6 L320.5,532.0 L332.3,533.7 L338.6,540.0 L347.6,543.6 L356.6,547.2 L361.0,551.7 L365.6,559.8 L361.0,562.5 L347.6,563.4 L338.6,559.0 L334.0,561.6 L330.5,564.3 L325.0,562.5 L320.5,568.0 L321.5,571.5 L319.7,572.5 L312.5,565.2 L302.5,564.3 L291.7,563.4 L288.0,557.0 L282.7,551.7 L278.2,545.4 L271.0,544.5 L264.7,542.7 Z" fill="none" stroke="#000" stroke-width="1.15" stroke-linejoin="round"/>
<path d="M790.0,530.0 L797.5,527.5 L815.0,528.8 L840.0,530.0 L857.5,532.5 L865.0,540.0 L862.5,547.5 L852.5,555.0 L840.0,560.0 L815.0,558.8 L802.5,560.0 L790.0,557.5 L787.5,542.5 Z" fill="none" stroke="#000" stroke-width="1.15" stroke-linejoin="round"/>
<path d="M105.0,102.0 L107.5,110.0 L112.5,110.0 L122.5,115.0 L125.0,120.0 L130.0,127.5 L131.0,135.0 L132.5,142.5 L135.0,140.0 L142.5,145.0 L142.5,149.0 L137.5,150.0 L132.5,149.0 L135.0,152.5 L145.0,152.5 L155.0,151.0 L160.0,147.5 L165.0,149.0 L167.5,145.0 L172.5,142.5 L174.0,137.5 L177.5,130.0 L180.0,120.0 L181.0,110.0 L182.0,102.0" fill="none" stroke="#000" stroke-width="1.15" stroke-linejoin="round"/>
<path d="M165.0,152.5 L160.0,161.0 L150.0,169.0 L137.5,176.0 L122.5,177.5 L112.5,181.0 L102.5,186.0" fill="none" stroke="#000" stroke-width="2" stroke-dasharray="5 4"/>
<path d="M271.6,149.7 L278.0,150.8 L281.8,153.0 L282.4,157.3 L285.6,163.7 L287.8,170.2 L293.1,176.7 L294.2,185.3 L291.0,191.8 L287.8,194.0 L284.5,198.3 L280.2,199.3 L275.9,194.0 L273.7,190.7 L267.3,187.5 L261.9,183.1 L265.1,177.8 L268.9,175.6 L267.3,172.4 L271.6,168.0 L272.7,161.6 L272.7,154.0 Z" fill="none" stroke="#000" stroke-width="1.15" stroke-linejoin="round"/>
<path d="M285.6,204.7 L293.1,202.6 L297.5,202.0 L301.8,206.9 L303.9,215.5 L303.9,224.1 L301.8,230.6 L295.3,231.7 L292.1,230.6 L293.1,226.3 L289.9,220.9 L287.8,213.4 L285.6,209.0 Z" fill="none" stroke="#000" stroke-width="1.15" stroke-linejoin="round"/>
<ellipse cx="515" cy="508.6" rx="11" ry="5" transform="rotate(25 515 508.6)" fill="none" stroke="#000" stroke-width="1.2"/>
<ellipse cx="1050" cy="660" rx="6.5" ry="12" transform="rotate(-5 1050 660)" fill="none" stroke="#000" stroke-width="1"/>
<ellipse cx="1065.5" cy="702" rx="5" ry="11.5" transform="rotate(-10 1065.5 702)" fill="none" stroke="#000" stroke-width="1"/>
<ellipse cx="1077" cy="740" rx="7" ry="10" transform="rotate(-25 1077 740)" fill="none" stroke="#000" stroke-width="1"/>
<ellipse cx="1084.5" cy="787.5" rx="5" ry="10" transform="rotate(15 1084.5 787.5)" fill="none" stroke="#000" stroke-width="1"/>
<ellipse cx="1072.5" cy="823" rx="4.5" ry="7" transform="rotate(10 1072.5 823)" fill="none" stroke="#000" stroke-width="1"/>
<path d="M1058.0,642.0 L1062.0,640.0 L1064.0,646.0 L1070.0,650.0 L1074.0,655.0 L1066.0,656.0 L1060.0,654.0 L1058.0,648.0 Z" fill="#fff" fill-opacity="0.75" stroke="#000" stroke-width="1"/>
<path d="M1041.0,573.0 L1046.0,572.5 L1049.0,577.0 L1046.0,581.0 L1042.0,579.0 Z" fill="#fff" fill-opacity="0.75" stroke="#000" stroke-width="1"/>
<path d="M1041.0,606.0 L1046.0,604.0 L1050.0,609.0 L1047.0,614.0 L1042.0,612.0 Z" fill="#fff" fill-opacity="0.75" stroke="#000" stroke-width="1"/>
<path d="M1024.0,626.0 L1027.0,624.0 L1029.0,629.0 L1026.0,631.0 Z" fill="#fff" fill-opacity="0.75" stroke="#000" stroke-width="1"/>
<path d="M994.0,590.0 L999.0,592.0 L1003.0,597.0 L1000.0,598.0 L996.0,594.0 Z" fill="#fff" fill-opacity="0.75" stroke="#000" stroke-width="1"/>
<path d="M1004.0,600.0 L1008.0,601.0 L1009.0,606.0 L1005.0,606.0 Z" fill="#fff" fill-opacity="0.75" stroke="#000" stroke-width="1"/>
<path d="M980.0,543.0 L986.0,541.0 L984.0,545.0 Z" fill="#fff" fill-opacity="0.75" stroke="#000" stroke-width="1"/>
<path d="M982.0,550.0 L988.0,549.0 L989.0,553.0 L984.0,554.0 Z" fill="#fff" fill-opacity="0.75" stroke="#000" stroke-width="1"/>
<path d="M892.0,535.0 L898.0,534.0 L902.0,538.0 L896.0,539.0 Z" fill="#fff" fill-opacity="0.75" stroke="#000" stroke-width="1"/>
<path d="M906.0,533.0 L910.0,530.0 L914.0,531.0 L911.0,535.0 L907.0,537.0 Z" fill="#fff" fill-opacity="0.75" stroke="#000" stroke-width="1"/>
<path d="M921.0,527.0 L925.0,526.0 L924.0,529.0 Z" fill="#fff" fill-opacity="0.75" stroke="#000" stroke-width="1"/>
<path d="M899.0,571.0 L906.0,569.0 L914.0,570.0 L915.0,573.0 L906.0,574.0 L900.0,573.0 Z" fill="#fff" fill-opacity="0.75" stroke="#000" stroke-width="1"/>
<path d="M867.0,549.0 L873.0,547.0 L881.0,546.0 L878.0,550.0 L870.0,551.0 Z" fill="#fff" fill-opacity="0.75" stroke="#000" stroke-width="1"/>
<path d="M1066.0,671.0 L1070.0,669.0 L1073.0,672.0 L1070.0,676.0 L1067.0,675.0 Z" fill="#fff" fill-opacity="0.75" stroke="#000" stroke-width="1"/>
<path d="M556.0,881.7 L563.0,880.5 L567.7,877.0 L570.0,872.3 L579.0,870.0 L588.7,871.0 L598.0,877.0 L605.0,886.3 L606.0,898.0 L607.0,903.0" fill="none" stroke="#000" stroke-width="1.15" stroke-linejoin="round"/>
<path d="M655.0,860.0 L658.0,859.5 L661.0,864.0 L664.5,870.0 L661.0,871.0 L657.0,866.0 Z" fill="none" stroke="#000" stroke-width="1.15" stroke-linejoin="round"/>
<path d="M697.0,874.0 L701.0,873.5 L705.0,880.0 L712.0,886.0 L717.0,891.0 L713.0,892.0 L706.0,888.0 L700.0,882.0 Z" fill="none" stroke="#000" stroke-width="1.15" stroke-linejoin="round"/>
<path d="M733.0,878.0 L737.0,877.0 L741.0,882.0 L744.0,888.0 L741.0,893.0 L738.0,886.0 L735.0,882.0 Z" fill="none" stroke="#000" stroke-width="1.15" stroke-linejoin="round"/>
<path d="M644.7,903.0 L644.7,900.3 L649.0,888.7 L658.7,884.0 L663.0,888.7 L666.8,900.3 L667.0,903.0" fill="none" stroke="#000" stroke-width="1.15" stroke-linejoin="round"/>
<path d="M32.5,135.4L61.5,130.3M61.5,130.3l3.9,6.6M89.1,135.4L116.0,123.4M145.7,135.4L143.1,106.1M143.1,106.1l13.8,-6.7M202.3,135.4L225.8,153.1M225.8,153.1l-2.1,7.4M258.9,135.4L286.0,146.9M286.0,146.9l-0.5,15.3M315.5,135.4L339.0,153.1M339.0,153.1l-4.2,14.7M372.1,135.4L395.6,153.1M395.6,153.1l-4.2,14.7M428.7,135.4L453.6,151.0M453.6,151.0l-2.9,15.0M485.3,135.4L510.5,150.5M510.5,150.5l-2.7,15.1M541.9,135.4L567.1,150.5M567.1,150.5l-2.7,15.1M598.5,135.4L623.2,151.4M623.2,151.4l-3.2,15.0M655.1,135.4L681.3,148.7M681.3,148.7l-1.6,15.2M711.7,135.4L716.8,164.4M716.8,164.4l-13.1,7.9M768.3,135.4L793.0,151.4M793.0,151.4l-3.2,15.0M824.9,135.4L855.2,150.8M855.2,150.8l-1.6,15.2M851.1,148.7l-0.8,7.6M881.5,135.4L902.3,156.2M902.3,156.2l-6.2,14.0M938.1,135.4L967.3,138.5M967.3,138.5l4.0,14.8M994.7,135.4L1024.0,138.0M1024.0,138.0l4.2,14.7M1051.3,135.4L1085.3,135.4M1085.3,135.4l5.5,14.3M1080.7,135.4l2.7,7.1M1107.9,135.4L1137.1,139.0M1137.1,139.0l3.7,14.8M32.5,196.5L57.2,180.5M57.2,180.5l12.4,9.0M89.1,196.5L114.6,181.8M114.6,181.8l11.9,9.6M145.7,196.5L172.3,184.1M172.3,184.1l11.0,10.6M202.3,196.5L231.1,190.4M231.1,190.4l8.3,12.8M258.9,196.5L288.1,193.4M288.1,193.4l6.9,13.6M315.5,196.5L344.3,202.6M344.3,202.6l2.4,15.1M372.1,196.5L401.1,201.6M401.1,201.6l2.9,15.0M428.7,196.5L458.0,199.1M458.0,199.1l4.2,14.7M485.3,196.5L513.8,203.6M513.8,203.6l1.9,15.2M541.9,196.5L569.2,207.5M569.2,207.5l-0.3,15.3M598.5,196.5L626.3,206.1M626.3,206.1l0.5,15.3M655.1,196.5L682.7,206.6M682.7,206.6l0.3,15.3M711.7,196.5L739.3,186.4M739.3,186.4l10.0,11.5M768.3,196.5L797.6,194.4M797.6,194.4l6.5,13.9M824.9,196.5L850.4,211.2M850.4,211.2l-2.4,15.1M881.5,196.5L915.3,200.1M915.3,200.1l4.0,14.8M910.7,199.6l2.0,7.4M938.1,196.5L972.1,197.1M972.1,197.1l5.2,14.4M967.5,197.0l2.6,7.2M994.7,196.5L1028.7,196.5M1028.7,196.5l5.5,14.3M1024.1,196.5l2.7,7.1M1051.3,196.5L1085.2,198.9M1085.2,198.9l4.5,14.6M1080.6,198.6l2.2,7.3M1107.9,196.5L1141.9,197.7M1141.9,197.7l5.0,14.5M1137.3,197.5l2.5,7.2M32.5,257.5L61.9,240.5M61.9,240.5l11.9,9.6M58.0,242.8l5.9,4.8M89.1,257.5L118.5,240.5M118.5,240.5l11.9,9.6M114.6,242.8l5.9,4.8M145.7,257.5L175.1,240.5M175.1,240.5l11.9,9.6M171.2,242.8l5.9,4.8M202.3,257.5L235.0,248.1M235.0,248.1l9.2,12.2M230.6,249.4l4.6,6.1M258.9,257.5L291.7,248.7M291.7,248.7l9.0,12.4M287.3,249.9l4.5,6.2M315.5,257.5L349.5,257.5M349.5,257.5l5.5,14.3M344.9,257.5l2.7,7.1M372.1,257.5L406.1,255.7M406.1,255.7l6.2,14.0M401.5,256.0l3.1,7.0M428.7,257.5L462.7,257.5M462.7,257.5l5.5,14.3M458.1,257.5l2.7,7.1M485.3,257.5L519.0,261.6M519.0,261.6l3.7,14.8M514.5,261.1l1.9,7.4M541.9,257.5L575.8,260.5M575.8,260.5l4.2,14.7M571.2,260.1l2.1,7.4M598.5,257.5L632.4,260.5M632.4,260.5l4.2,14.7M627.8,260.1l2.1,7.4M655.1,257.5L684.5,258.0M684.5,258.0l5.2,14.4M711.7,257.5L740.2,264.6M740.2,264.6l1.9,15.2M768.3,257.5L797.6,255.4M797.6,255.4l6.5,13.9M824.9,257.5L858.7,253.9M858.7,253.9l6.9,13.6M854.1,254.4l3.5,6.8M881.5,257.5L915.5,256.3M915.5,256.3l6.0,14.1M910.9,256.5l3.0,7.0M938.1,257.5L972.1,255.7M972.1,255.7l6.2,14.0M967.5,256.0l3.1,7.0M994.7,257.5L1027.4,248.1M1027.4,248.1l9.2,12.2M1023.0,249.4l9.2,12.2M1051.3,257.5L1085.0,262.2M1085.0,262.2l3.4,14.9M1080.4,261.6l3.4,14.9M1107.9,257.5L1141.9,255.7M1141.9,255.7l6.2,14.0M1137.3,256.0l3.1,7.0M32.5,320.0L61.5,325.1M61.5,325.1l1.5,7.5M89.1,320.0L94.2,349.0M94.2,349.0l-6.6,3.9M145.7,320.0L166.5,299.2M166.5,299.2l7.0,3.1M202.3,320.0L221.2,297.5M221.2,297.5l7.2,2.5M258.9,320.0L292.9,320.0M292.9,320.0l5.5,14.3M288.3,320.0l2.7,7.1M315.5,320.0L349.4,317.0M349.4,317.0l6.7,13.8M344.8,317.4l3.4,6.9M372.1,320.0L405.8,315.9M405.8,315.9l7.2,13.5M401.3,316.4l3.6,6.8M428.7,320.0L462.5,316.4M462.5,316.4l6.9,13.6M457.9,316.9l3.5,6.8M485.3,320.0L519.2,317.6M519.2,317.6l6.5,13.9M514.6,317.9l3.2,6.9M541.9,320.0L575.8,322.4M575.8,322.4l4.5,14.6M571.2,322.1l2.2,7.3M598.5,320.0L632.5,318.2M632.5,318.2l6.2,14.0M627.9,318.5l3.1,7.0M655.1,320.0L689.1,321.2M689.1,321.2l5.0,14.5M684.5,321.0l2.5,7.2M711.7,320.0L745.5,316.4M745.5,316.4l6.9,13.6M740.9,316.9l3.5,6.8M768.3,320.0L801.9,314.7M801.9,314.7l7.7,13.3M797.3,315.4l7.7,13.3M824.9,320.0L858.9,318.2M858.9,318.2l6.2,14.0M854.3,318.5l3.1,7.0M881.5,320.0L915.5,320.0M915.5,320.0l5.5,14.3M910.9,320.0l2.7,7.1M938.1,320.0L972.1,321.2M972.1,321.2l5.0,14.5M967.5,321.0l2.5,7.2M994.7,320.0L1028.7,320.0M1028.7,320.0l5.5,14.3M1024.1,320.0l2.7,7.1M1051.3,320.0L1085.3,320.0M1085.3,320.0l5.5,14.3M1080.7,320.0l2.7,7.1M1107.9,320.0L1141.9,320.0M1141.9,320.0l5.5,14.3M1137.3,320.0l2.7,7.1M32.5,382.7L61.8,380.1M61.8,380.1l6.7,13.8M89.1,382.7L118.0,388.3M118.0,388.3l2.7,15.1M145.7,382.7L163.0,406.5M163.0,406.5l-4.2,6.4M202.3,382.7L192.7,354.9M192.7,354.9l5.9,-4.9M258.9,382.7L275.3,407.1M275.3,407.1l-8.8,12.5M315.5,382.7L339.6,399.6M339.6,399.6l-3.7,14.8M372.1,382.7L404.6,372.8M404.6,372.8l9.4,12.1M400.2,374.1l4.7,6.0M428.7,382.7L462.1,376.2M462.1,376.2l8.1,13.0M457.6,377.1l4.1,6.5M485.3,382.7L519.3,383.9M519.3,383.9l5.0,14.5M514.7,383.7l2.5,7.2M541.9,382.7L575.8,385.1M575.8,385.1l4.5,14.6M571.2,384.8l2.2,7.3M598.5,382.7L632.5,382.7M632.5,382.7l5.5,14.3M627.9,382.7l2.7,7.1M655.1,382.7L689.0,385.1M689.0,385.1l4.5,14.6M684.4,384.8l2.2,7.3M711.7,382.7L745.7,381.5M745.7,381.5l6.0,14.1M741.1,381.7l3.0,7.0M768.3,382.7L802.3,382.7M802.3,382.7l5.5,14.3M797.7,382.7l2.7,7.1M824.9,382.7L858.9,382.7M858.9,382.7l5.5,14.3M854.3,382.7l2.7,7.1M881.5,382.7L915.2,378.0M915.2,378.0l7.4,13.4M910.6,378.6l3.7,6.7M938.1,382.7L972.1,382.7M972.1,382.7l5.5,14.3M967.5,382.7l2.7,7.1M994.7,382.7L1028.6,379.7M1028.6,379.7l6.7,13.8M1024.0,380.1l3.4,6.9M1051.3,382.7L1085.3,382.7M1085.3,382.7l5.5,14.3M1080.7,382.7l2.7,7.1M1107.9,382.7L1141.9,382.7M1141.9,382.7l5.5,14.3M1137.3,382.7l2.7,7.1M32.5,445.3L61.7,441.7M61.7,441.7l7.2,13.5M89.1,445.3L118.5,445.3M118.5,445.3l5.5,14.3M145.7,445.3L174.7,450.4M174.7,450.4l2.9,15.0M202.3,445.3L231.5,441.7M231.5,441.7l3.6,6.8M258.9,445.3L280.7,465.0M280.7,465.0l-5.5,14.3M315.5,445.3L336.3,466.1M336.3,466.1l-6.2,14.0M372.1,445.3L396.8,461.3M396.8,461.3l-3.2,15.0M428.7,445.3L462.5,441.7M462.5,441.7l6.9,13.6M457.9,442.2l3.5,6.8M485.3,445.3L519.0,441.2M519.0,441.2l7.2,13.5M514.5,441.7l3.6,6.8M541.9,445.3L575.3,438.8M575.3,438.8l8.1,13.0M570.8,439.7l4.1,6.5M598.5,445.3L632.5,445.3M632.5,445.3l5.5,14.3M627.9,445.3l2.7,7.1M655.1,445.3L688.6,451.2M688.6,451.2l2.9,15.0M684.1,450.4l1.5,7.5M711.7,445.3L745.7,445.3M745.7,445.3l5.5,14.3M741.1,445.3l2.7,7.1M768.3,445.3L802.3,443.5M802.3,443.5l6.2,14.0M797.7,443.8l3.1,7.0M824.9,445.3L858.8,442.3M858.8,442.3l6.7,13.8M854.2,442.7l3.4,6.9M881.5,445.3L915.1,440.0M915.1,440.0l7.7,13.3M910.5,440.7l3.8,6.6M938.1,445.3L971.7,440.0M971.7,440.0l7.7,13.3M967.1,440.7l3.8,6.6M994.7,445.3L1028.1,438.8M1028.1,438.8l8.1,13.0M1023.6,439.7l4.1,6.5M1051.3,445.3L1085.2,442.3M1085.2,442.3l6.7,13.8M1080.6,442.7l3.4,6.9M1107.9,445.3L1141.9,443.5M1141.9,443.5l6.2,14.0M1137.3,443.8l3.1,7.0M32.5,510.0L61.6,505.9M61.6,505.9l7.4,13.4M89.1,510.0L118.5,511.0M118.5,511.0l5.0,14.5M145.7,510.0L175.0,507.4M175.0,507.4l6.7,13.8M202.3,510.0L234.8,500.1M234.8,500.1l9.4,12.1M230.4,501.4l4.7,6.0M258.9,510.0L292.9,510.0M292.9,510.0l5.5,14.3M288.3,510.0l2.7,7.1M315.5,510.0L348.6,517.6M348.6,517.6l2.1,15.2M344.1,516.6l2.1,15.2M372.1,510.0L404.9,518.8M404.9,518.8l1.6,15.2M400.5,517.6l1.6,15.2M428.7,510.0L449.5,489.2M449.5,489.2l14.0,6.2M485.3,510.0L516.8,497.3M516.8,497.3l10.4,11.2M512.6,499.0l5.2,5.6M541.9,510.0L575.9,510.0M575.9,510.0l5.5,14.3M571.3,510.0l2.7,7.1M598.5,510.0L632.2,505.3M632.2,505.3l7.4,13.4M627.6,505.9l7.4,13.4M655.1,510.0L688.8,505.3M688.8,505.3l7.4,13.4M684.2,505.9l7.4,13.4M711.7,510.0L745.4,505.3M745.4,505.3l7.4,13.4M740.8,505.9l7.4,13.4M768.3,510.0L802.0,505.3M802.0,505.3l7.4,13.4M797.4,505.9l7.4,13.4M824.9,510.0L858.6,505.3M858.6,505.3l7.4,13.4M854.0,505.9l7.4,13.4M881.5,510.0L914.8,502.9M914.8,502.9l8.3,12.8M910.3,503.9l8.3,12.8M938.1,510.0L971.5,503.5M971.5,503.5l8.1,13.0M967.0,504.4l8.1,13.0M994.7,510.0L1028.2,504.1M1028.2,504.1l7.9,13.1M1023.7,504.9l7.9,13.1M1051.3,510.0L1085.0,505.9M1085.0,505.9l7.2,13.5M1080.5,506.4l7.2,13.5M1107.9,510.0L1141.9,508.2M1141.9,508.2l6.2,14.0M1137.3,508.5l6.2,14.0M32.5,575.7L64.6,564.6M64.6,564.6l9.8,11.7M60.3,566.1l4.9,5.9M89.1,575.7L121.2,564.6M121.2,564.6l9.8,11.7M116.9,566.1l4.9,5.9M145.7,575.7L178.8,568.1M178.8,568.1l8.6,12.7M174.3,569.1l8.6,12.7M202.3,575.7L233.8,563.0M233.8,563.0l10.4,11.2M229.6,564.7l5.2,5.6M258.9,575.7L292.6,580.4M292.6,580.4l3.4,14.9M288.0,579.8l1.7,7.5M315.5,575.7L349.4,578.7M349.4,578.7l4.2,14.7M344.8,578.3l4.2,14.7M372.1,575.7L406.1,576.3M406.1,576.3l5.2,14.4M401.5,576.2l5.2,14.4M428.7,575.7L462.6,578.7M462.6,578.7l4.2,14.7M458.0,578.3l4.2,14.7M485.3,575.7L519.2,578.7M519.2,578.7l4.2,14.7M514.6,578.3l4.2,14.7M541.9,575.7L575.8,578.7M575.8,578.7l4.2,14.7M571.2,578.3l4.2,14.7M598.5,575.7L632.4,572.7M632.4,572.7l6.7,13.8M627.8,573.1l6.7,13.8M655.1,575.7L689.0,572.7M689.0,572.7l6.7,13.8M684.4,573.1l6.7,13.8M711.7,575.7L745.6,572.7M745.6,572.7l6.7,13.8M741.0,573.1l6.7,13.8M768.3,575.7L802.2,572.7M802.2,572.7l6.7,13.8M797.6,573.1l6.7,13.8M824.9,575.7L858.8,572.7M858.8,572.7l6.7,13.8M854.2,573.1l6.7,13.8M881.5,575.7L915.2,571.6M915.2,571.6l7.2,13.5M910.7,572.1l7.2,13.5M938.1,575.7L972.0,572.7M972.0,572.7l6.7,13.8M967.4,573.1l6.7,13.8M994.7,575.7L1028.3,570.4M1028.3,570.4l7.7,13.3M1023.7,571.1l7.7,13.3M1051.3,575.7L1085.2,578.7M1085.2,578.7l4.2,14.7M1080.6,578.3l4.2,14.7M1107.9,575.7L1141.9,576.9M1141.9,576.9l5.0,14.5M1137.3,576.7l5.0,14.5M32.5,641.0L65.5,632.8M65.5,632.8l8.8,12.5M61.0,633.9l8.8,12.5M89.1,641.0L122.4,633.9M122.4,633.9l8.3,12.8M117.9,634.9l8.3,12.8M145.7,641.0L179.4,636.9M179.4,636.9l7.2,13.5M174.9,637.4l7.2,13.5M202.3,641.0L235.4,633.4M235.4,633.4l8.6,12.7M230.9,634.4l8.6,12.7M258.9,641.0L292.8,638.0M292.8,638.0l6.7,13.8M288.2,638.4l6.7,13.8M315.5,641.0L349.4,638.0M349.4,638.0l6.7,13.8M344.8,638.4l6.7,13.8M372.1,641.0L406.1,641.6M406.1,641.6l5.2,14.4M401.5,641.5l5.2,14.4M428.7,641.0L462.3,635.7M462.3,635.7l7.7,13.3M457.7,636.4l7.7,13.3M485.3,641.0L519.3,639.2M519.3,639.2l6.2,14.0M514.7,639.5l6.2,14.0M541.9,641.0L575.8,638.0M575.8,638.0l6.7,13.8M571.2,638.4l6.7,13.8M598.5,641.0L632.5,640.4M632.5,640.4l5.7,14.2M627.9,640.5l5.7,14.2M655.1,641.0L689.1,641.0M689.1,641.0l5.5,14.3M684.5,641.0l5.5,14.3M711.7,641.0L745.7,641.0M745.7,641.0l5.5,14.3M741.1,641.0l5.5,14.3M768.3,641.0L802.0,636.9M802.0,636.9l7.2,13.5M797.5,637.4l7.2,13.5M824.9,641.0L858.8,638.0M858.8,638.0l6.7,13.8M854.2,638.4l6.7,13.8M881.5,641.0L915.1,635.7M915.1,635.7l7.7,13.3M910.5,636.4l7.7,13.3M938.1,641.0L972.0,638.0M972.0,638.0l6.7,13.8M967.4,638.4l6.7,13.8M994.7,641.0L1028.4,636.9M1028.4,636.9l7.2,13.5M1023.9,637.4l7.2,13.5M1051.3,641.0L1085.2,638.6M1085.2,638.6l6.5,13.9M1080.6,638.9l6.5,13.9M1107.9,641.0L1141.9,639.2M1141.9,639.2l6.2,14.0M1137.3,639.5l6.2,14.0M32.5,706.0L65.5,697.8M65.5,697.8l8.8,12.5M61.0,698.9l8.8,12.5M89.1,706.0L121.0,694.4M121.0,694.4l10.0,11.5M116.7,695.9l10.0,11.5M145.7,706.0L177.6,694.4M177.6,694.4l10.0,11.5M173.3,695.9l10.0,11.5M202.3,706.0L234.4,694.9M234.4,694.9l9.8,11.7M230.1,696.4l9.8,11.7M258.9,706.0L296.8,698.6M296.8,698.6l8.1,13.0M292.3,699.5l8.1,13.0M287.8,700.4l4.1,6.5M315.5,706.0L348.5,697.8M348.5,697.8l8.8,12.5M344.0,698.9l8.8,12.5M372.1,706.0L408.8,694.1M408.8,694.1l9.6,11.9M404.4,695.5l9.6,11.9M400.1,696.9l4.8,5.9M428.7,706.0L462.0,698.9M462.0,698.9l8.3,12.8M457.5,699.9l8.3,12.8M485.3,706.0L519.1,702.4M519.1,702.4l6.9,13.6M514.5,702.9l6.9,13.6M541.9,706.0L575.7,702.4M575.7,702.4l6.9,13.6M571.1,702.9l6.9,13.6M598.5,706.0L632.5,706.6M632.5,706.6l5.2,14.4M627.9,706.5l5.2,14.4M655.1,706.0L689.0,703.6M689.0,703.6l6.5,13.9M684.4,703.9l6.5,13.9M711.7,706.0L745.7,706.0M745.7,706.0l5.5,14.3M741.1,706.0l5.5,14.3M768.3,706.0L802.2,703.6M802.2,703.6l6.5,13.9M797.6,703.9l6.5,13.9M824.9,706.0L858.9,706.0M858.9,706.0l5.5,14.3M854.3,706.0l5.5,14.3M881.5,706.0L915.5,706.0M915.5,706.0l5.5,14.3M910.9,706.0l5.5,14.3M938.1,706.0L972.1,706.0M972.1,706.0l5.5,14.3M967.5,706.0l5.5,14.3M994.7,706.0L1028.7,706.0M1028.7,706.0l5.5,14.3M1024.1,706.0l5.5,14.3M1051.3,706.0L1085.3,706.0M1085.3,706.0l5.5,14.3M1080.7,706.0l5.5,14.3M1107.9,706.0L1141.9,706.0M1141.9,706.0l5.5,14.3M1137.3,706.0l5.5,14.3M32.5,771.0L66.1,765.7M66.1,765.7l7.7,13.3M61.5,766.4l3.8,6.6M89.1,771.0L120.6,758.3M120.6,758.3l10.4,11.2M116.4,760.0l10.4,11.2M145.7,771.0L176.5,756.6M176.5,756.6l11.0,10.6M172.3,758.6l11.0,10.6M202.3,771.0L234.8,761.1M234.8,761.1l9.4,12.1M230.4,762.4l9.4,12.1M258.9,771.0L295.6,759.1M295.6,759.1l9.6,11.9M291.2,760.5l9.6,11.9M286.9,761.9l4.8,5.9M315.5,771.0L351.0,755.9M351.0,755.9l10.6,11.0M346.8,757.7l10.6,11.0M342.6,759.5l5.3,5.5M372.1,771.0L409.7,762.3M409.7,762.3l8.6,12.7M405.2,763.4l8.6,12.7M400.7,764.4l4.3,6.3M428.7,771.0L461.7,762.8M461.7,762.8l8.8,12.5M457.2,763.9l8.8,12.5M485.3,771.0L519.3,769.2M519.3,769.2l6.2,14.0M514.7,769.5l6.2,14.0M541.9,771.0L575.9,772.2M575.9,772.2l5.0,14.5M571.3,772.0l5.0,14.5M598.5,771.0L632.5,769.8M632.5,769.8l6.0,14.1M627.9,770.0l6.0,14.1M655.1,771.0L689.0,773.4M689.0,773.4l4.5,14.6M684.4,773.1l4.5,14.6M711.7,771.0L744.7,779.2M744.7,779.2l1.9,15.2M740.2,778.1l1.9,15.2M768.3,771.0L802.3,772.2M802.3,772.2l5.0,14.5M797.7,772.0l5.0,14.5M824.9,771.0L858.9,771.0M858.9,771.0l5.5,14.3M854.3,771.0l5.5,14.3M881.5,771.0L915.5,771.0M915.5,771.0l5.5,14.3M910.9,771.0l5.5,14.3M938.1,771.0L972.1,771.0M972.1,771.0l5.5,14.3M967.5,771.0l5.5,14.3M994.7,771.0L1028.7,771.0M1028.7,771.0l5.5,14.3M1024.1,771.0l5.5,14.3M1051.3,771.0L1085.3,771.0M1085.3,771.0l5.5,14.3M1080.7,771.0l5.5,14.3M1107.9,771.0L1141.9,771.0M1141.9,771.0l5.5,14.3M1137.3,771.0l5.5,14.3M32.5,835.5L63.3,821.1M63.3,821.1l11.0,10.6M59.1,823.1l5.5,5.3M89.1,835.5L118.8,819.0M118.8,819.0l11.7,9.8M114.8,821.2l11.7,9.8M145.7,835.5L175.7,819.5M175.7,819.5l11.5,10.0M171.7,821.7l11.5,10.0M202.3,835.5L232.9,820.6M232.9,820.6l11.2,10.4M228.7,822.6l11.2,10.4M258.9,835.5L294.9,821.7M294.9,821.7l10.2,11.4M290.6,823.3l10.2,11.4M286.3,825.0l5.1,5.7M315.5,835.5L350.5,819.2M350.5,819.2l11.0,10.6M346.3,821.1l11.0,10.6M342.1,823.1l5.5,5.3M372.1,835.5L408.4,822.3M408.4,822.3l10.0,11.5M404.0,823.9l10.0,11.5M399.7,825.4l5.0,5.8M428.7,835.5L465.2,822.9M465.2,822.9l9.8,11.7M460.8,824.4l9.8,11.7M456.5,825.9l4.9,5.9M485.3,835.5L522.2,824.2M522.2,824.2l9.4,12.1M517.8,825.6l9.4,12.1M513.4,826.9l4.7,6.0M541.9,835.5L580.1,830.1M580.1,830.1l7.4,13.4M575.6,830.8l7.4,13.4M571.0,831.4l3.7,6.7M598.5,835.5L637.1,834.8M637.1,834.8l5.7,14.2M632.5,834.9l5.7,14.2M627.9,835.0l2.9,7.1M655.1,835.5L693.7,835.5M693.7,835.5l5.5,14.3M689.1,835.5l5.5,14.3M684.5,835.5l2.7,7.1M711.7,835.5L750.2,838.9M750.2,838.9l4.2,14.7M745.6,838.5l4.2,14.7M741.0,838.1l2.1,7.4M768.3,835.5L806.9,834.2M806.9,834.2l6.0,14.1M802.3,834.3l6.0,14.1M797.7,834.5l3.0,7.0M824.9,835.5L863.5,835.5M863.5,835.5l5.5,14.3M858.9,835.5l5.5,14.3M854.3,835.5l2.7,7.1M881.5,835.5L915.5,835.5M915.5,835.5l5.5,14.3M910.9,835.5l5.5,14.3M938.1,835.5L972.1,835.5M972.1,835.5l5.5,14.3M967.5,835.5l5.5,14.3M994.7,835.5L1028.7,835.5M1028.7,835.5l5.5,14.3M1024.1,835.5l5.5,14.3M1051.3,835.5L1085.3,835.5M1085.3,835.5l5.5,14.3M1080.7,835.5l5.5,14.3M1107.9,835.5L1141.9,835.5M1141.9,835.5l5.5,14.3M1137.3,835.5l5.5,14.3M32.5,899.5L58.9,878.1M58.9,878.1l13.3,7.6M55.3,881.0l6.6,3.8M89.1,899.5L117.6,881.0M117.6,881.0l12.4,9.0M113.8,883.5l6.2,4.5M145.7,899.5L176.3,884.6M176.3,884.6l11.2,10.4M172.1,886.6l11.2,10.4M202.3,899.5L237.6,883.8M237.6,883.8l10.8,10.8M233.4,885.7l10.8,10.8M229.2,887.5l5.4,5.4M258.9,899.5L294.2,883.8M294.2,883.8l10.8,10.8M290.0,885.7l10.8,10.8M285.8,887.5l5.4,5.4M315.5,899.5L349.3,880.8M349.3,880.8l11.7,9.8M345.2,883.0l11.7,9.8M341.2,885.2l5.9,4.9M372.1,899.5L407.1,883.2M407.1,883.2l11.0,10.6M402.9,885.1l11.0,10.6M398.7,887.1l5.5,5.3M428.7,899.5L463.4,882.6M463.4,882.6l11.2,10.4M459.3,884.6l11.2,10.4M455.1,886.6l5.6,5.2M485.3,899.5L522.0,887.6M522.0,887.6l9.6,11.9M517.6,889.0l9.6,11.9M513.3,890.4l4.8,5.9M541.9,899.5L579.5,890.8M579.5,890.8l8.6,12.7M575.0,891.9l8.6,12.7M570.5,892.9l4.3,6.3M598.5,899.5L636.4,892.1M636.4,892.1l8.1,13.0M631.9,893.0l8.1,13.0M627.4,893.9l4.1,6.5M655.1,899.5L693.3,894.1M693.3,894.1l7.4,13.4M688.8,894.8l7.4,13.4M684.2,895.4l3.7,6.7M711.7,899.5L750.2,896.1M750.2,896.1l6.7,13.8M745.6,896.5l6.7,13.8M741.0,896.9l3.4,6.9M768.3,899.5L806.8,896.1M806.8,896.1l6.7,13.8M802.2,896.5l6.7,13.8M797.6,896.9l3.4,6.9M824.9,899.5L863.4,897.5M863.4,897.5l6.2,14.0M858.9,897.7l6.2,14.0M854.3,898.0l3.1,7.0M881.5,899.5L915.5,899.5M915.5,899.5l5.5,14.3M910.9,899.5l5.5,14.3M938.1,899.5L972.1,899.5M972.1,899.5l5.5,14.3M967.5,899.5l5.5,14.3M994.7,899.5L1028.7,899.5M1028.7,899.5l5.5,14.3M1024.1,899.5l5.5,14.3M1051.3,899.5L1085.3,899.5M1085.3,899.5l5.5,14.3M1080.7,899.5l5.5,14.3M1107.9,899.5L1141.9,899.5M1141.9,899.5l5.5,14.3M1137.3,899.5l5.5,14.3" fill="none" stroke="#666" stroke-width="0.9"/>
<g stroke="#b0ad98" stroke-width="1.9" fill="none">
<g stroke-dasharray="2 7.83"><line x1="31.9" y1="894.9" x2="1132.5" y2="894.9" />
<line x1="31.9" y1="838.4" x2="1132.5" y2="838.4" />
<line x1="31.9" y1="781.9" x2="1132.5" y2="781.9" />
<line x1="31.9" y1="725.4" x2="1132.5" y2="725.4" />
<line x1="31.9" y1="668.9" x2="1132.5" y2="668.9" />
<line x1="31.9" y1="612.4" x2="1132.5" y2="612.4" />
<line x1="31.9" y1="555.9" x2="1132.5" y2="555.9" />
<line x1="31.9" y1="499.4" x2="1132.5" y2="499.4" />
<line x1="31.9" y1="442.9" x2="1132.5" y2="442.9" />
<line x1="31.9" y1="386.4" x2="1132.5" y2="386.4" />
<line x1="31.9" y1="329.8" x2="1132.5" y2="329.8" />
<line x1="31.9" y1="273.3" x2="1132.5" y2="273.3" />
<line x1="31.9" y1="216.8" x2="1132.5" y2="216.8" />
<line x1="31.9" y1="160.3" x2="1132.5" y2="160.3" />
<line x1="31.9" y1="103.8" x2="1132.5" y2="103.8" /></g>
<g stroke-dasharray="2 7.82"><line x1="1035.6" y1="96.6" x2="1035.6" y2="902" />
<line x1="941.3" y1="96.6" x2="941.3" y2="902" />
<line x1="847.1" y1="96.6" x2="847.1" y2="902" />
<line x1="752.8" y1="96.6" x2="752.8" y2="902" />
<line x1="658.6" y1="96.6" x2="658.6" y2="902" />
<line x1="564.3" y1="96.6" x2="564.3" y2="902" />
<line x1="470.0" y1="96.6" x2="470.0" y2="902" />
<line x1="375.8" y1="96.6" x2="375.8" y2="902" />
<line x1="281.5" y1="96.6" x2="281.5" y2="902" />
<line x1="187.3" y1="96.6" x2="187.3" y2="902" />
<line x1="93.0" y1="96.6" x2="93.0" y2="902" /></g>
</g>
</g>
<text x="246" y="33" font-size="30.5" fill="#000" stroke="#fff" stroke-width="0.9" textLength="728" lengthAdjust="spacing">Presion a nivel de superficie (hPa,somb.)</text>
<g transform="scale(1.15,1)">
<text x="50.00" y="60" font-size="15.6" fill="#3838ee" textLength="117.39" lengthAdjust="spacing">02–Ago–2025</text>
<text x="222.61" y="60" font-size="15.6" fill="#3838ee" textLength="342.17" lengthAdjust="spacing">0000 UTC / 9:00 pm Hora Local / SFC</text>
<text x="41.30" y="81.3" font-size="13.9" fill="#10a0f0" style="white-space:pre" textLength="953.48" lengthAdjust="spacing">Pronóstico con el Modelo Atmósferico WRF inicializado a las 0600UTC_31JUL2025 y válido hasta las  0600UTC_03AGO2025</text>
</g>
<rect x="915.5" y="877.7" width="209" height="20.7" fill="#fff" stroke="#b0b0b0" stroke-width="1"/>
<text x="931.5" y="894" font-size="15" fill="#1ea0f0" textLength="20.5" lengthAdjust="spacingAndGlyphs">Sis</text>
<text x="952" y="894" font-size="15" fill="#2020e0" textLength="18" lengthAdjust="spacingAndGlyphs">ππ</text>
<text x="974" y="893.5" font-size="15" fill="#505050" textLength="8.6" lengthAdjust="spacingAndGlyphs">–</text>
<text x="992.8" y="894" font-size="15" fill="#505050" textLength="125.2" lengthAdjust="spacingAndGlyphs">ONAMET/REP.DOM.</text>
<text x="4.8" y="899.9" class="ax" textLength="20.3" lengthAdjust="spacingAndGlyphs">12N</text>
<rect x="28" y="894.3" width="2" height="1.2" fill="#a8a8a8"/>
<text x="4.8" y="843.4" class="ax" textLength="20.3" lengthAdjust="spacingAndGlyphs">13N</text>
<rect x="28" y="837.8" width="2" height="1.2" fill="#a8a8a8"/>
<text x="4.8" y="786.9" class="ax" textLength="20.3" lengthAdjust="spacingAndGlyphs">14N</text>
<rect x="28" y="781.3" width="2" height="1.2" fill="#a8a8a8"/>
<text x="4.8" y="730.4" class="ax" textLength="20.3" lengthAdjust="spacingAndGlyphs">15N</text>
<rect x="28" y="724.8" width="2" height="1.2" fill="#a8a8a8"/>
<text x="4.8" y="673.9" class="ax" textLength="20.3" lengthAdjust="spacingAndGlyphs">16N</text>
<rect x="28" y="668.3" width="2" height="1.2" fill="#a8a8a8"/>
<text x="4.8" y="617.4" class="ax" textLength="20.3" lengthAdjust="spacingAndGlyphs">17N</text>
<rect x="28" y="611.8" width="2" height="1.2" fill="#a8a8a8"/>
<text x="4.8" y="560.9" class="ax" textLength="20.3" lengthAdjust="spacingAndGlyphs">18N</text>
<rect x="28" y="555.3" width="2" height="1.2" fill="#a8a8a8"/>
<text x="4.8" y="504.4" class="ax" textLength="20.3" lengthAdjust="spacingAndGlyphs">19N</text>
<rect x="28" y="498.8" width="2" height="1.2" fill="#a8a8a8"/>
<text x="4.8" y="447.9" class="ax" textLength="20.3" lengthAdjust="spacingAndGlyphs">20N</text>
<rect x="28" y="442.3" width="2" height="1.2" fill="#a8a8a8"/>
<text x="4.8" y="391.4" class="ax" textLength="20.3" lengthAdjust="spacingAndGlyphs">21N</text>
<rect x="28" y="385.8" width="2" height="1.2" fill="#a8a8a8"/>
<text x="4.8" y="334.8" class="ax" textLength="20.3" lengthAdjust="spacingAndGlyphs">22N</text>
<rect x="28" y="329.2" width="2" height="1.2" fill="#a8a8a8"/>
<text x="4.8" y="278.3" class="ax" textLength="20.3" lengthAdjust="spacingAndGlyphs">23N</text>
<rect x="28" y="272.7" width="2" height="1.2" fill="#a8a8a8"/>
<text x="4.8" y="221.8" class="ax" textLength="20.3" lengthAdjust="spacingAndGlyphs">24N</text>
<rect x="28" y="216.2" width="2" height="1.2" fill="#a8a8a8"/>
<text x="4.8" y="165.3" class="ax" textLength="20.3" lengthAdjust="spacingAndGlyphs">25N</text>
<rect x="28" y="159.7" width="2" height="1.2" fill="#a8a8a8"/>
<text x="4.8" y="108.8" class="ax" textLength="20.3" lengthAdjust="spacingAndGlyphs">26N</text>
<rect x="28" y="103.2" width="2" height="1.2" fill="#a8a8a8"/>
<text x="1119.4" y="919" class="ax" textLength="21" lengthAdjust="spacingAndGlyphs">60W</text>
<rect x="1129.3" y="905" width="1.2" height="2" fill="#a8a8a8"/>
<text x="1025.1" y="919" class="ax" textLength="21" lengthAdjust="spacingAndGlyphs">62W</text>
<rect x="1035.0" y="905" width="1.2" height="2" fill="#a8a8a8"/>
<text x="930.8" y="919" class="ax" textLength="21" lengthAdjust="spacingAndGlyphs">64W</text>
<rect x="940.7" y="905" width="1.2" height="2" fill="#a8a8a8"/>
<text x="836.6" y="919" class="ax" textLength="21" lengthAdjust="spacingAndGlyphs">66W</text>
<rect x="846.5" y="905" width="1.2" height="2" fill="#a8a8a8"/>
<text x="742.3" y="919" class="ax" textLength="21" lengthAdjust="spacingAndGlyphs">68W</text>
<rect x="752.2" y="905" width="1.2" height="2" fill="#a8a8a8"/>
<text x="648.1" y="919" class="ax" textLength="21" lengthAdjust="spacingAndGlyphs">70W</text>
<rect x="658.0" y="905" width="1.2" height="2" fill="#a8a8a8"/>
<text x="553.8" y="919" class="ax" textLength="21" lengthAdjust="spacingAndGlyphs">72W</text>
<rect x="563.7" y="905" width="1.2" height="2" fill="#a8a8a8"/>
<text x="459.5" y="919" class="ax" textLength="21" lengthAdjust="spacingAndGlyphs">74W</text>
<rect x="469.4" y="905" width="1.2" height="2" fill="#a8a8a8"/>
<text x="365.3" y="919" class="ax" textLength="21" lengthAdjust="spacingAndGlyphs">76W</text>
<rect x="375.2" y="905" width="1.2" height="2" fill="#a8a8a8"/>
<text x="271.0" y="919" class="ax" textLength="21" lengthAdjust="spacingAndGlyphs">78W</text>
<rect x="280.9" y="905" width="1.2" height="2" fill="#a8a8a8"/>
<text x="176.8" y="919" class="ax" textLength="21" lengthAdjust="spacingAndGlyphs">80W</text>
<rect x="186.7" y="905" width="1.2" height="2" fill="#a8a8a8"/>
<text x="82.5" y="919" class="ax" textLength="21" lengthAdjust="spacingAndGlyphs">82W</text>
<rect x="92.4" y="905" width="1.2" height="2" fill="#a8a8a8"/>
<rect x="1144.2" y="98.3" width="18.5" height="806.4" fill="#d9d9d9"/>
<rect x="1145.9" y="99.6" width="15.3" height="803" fill="#fff"/>
<rect x="1145.9" y="101.20" width="15.3" height="26.75" fill="rgb(0, 0, 100)"/>
<rect x="1145.9" y="127.95" width="15.3" height="27.65" fill="rgb(0, 0, 170)"/>
<rect x="1145.9" y="127.95" width="15.3" height="1.5" fill="#fff" opacity="0.55"/>
<rect x="1145.9" y="155.60" width="15.3" height="27.65" fill="rgb(0, 0, 205)"/>
<rect x="1145.9" y="155.60" width="15.3" height="1.5" fill="#fff" opacity="0.55"/>
<rect x="1145.9" y="183.25" width="15.3" height="27.65" fill="rgb(0, 0, 255)"/>
<rect x="1145.9" y="183.25" width="15.3" height="1.5" fill="#fff" opacity="0.55"/>
<rect x="1145.9" y="210.90" width="15.3" height="27.65" fill="rgb(30, 30, 255)"/>
<rect x="1145.9" y="210.90" width="15.3" height="1.5" fill="#fff" opacity="0.55"/>
<rect x="1145.9" y="238.55" width="15.3" height="27.65" fill="rgb(68, 68, 255)"/>
<rect x="1145.9" y="238.55" width="15.3" height="1.5" fill="#fff" opacity="0.55"/>
<rect x="1145.9" y="266.20" width="15.3" height="27.65" fill="rgb(90, 90, 255)"/>
<rect x="1145.9" y="266.20" width="15.3" height="1.5" fill="#fff" opacity="0.55"/>
<rect x="1145.9" y="293.85" width="15.3" height="27.65" fill="rgb(110, 110, 255)"/>
<rect x="1145.9" y="293.85" width="15.3" height="1.5" fill="#fff" opacity="0.55"/>
<rect x="1145.9" y="321.50" width="15.3" height="27.65" fill="rgb(138, 138, 255)"/>
<rect x="1145.9" y="321.50" width="15.3" height="1.5" fill="#fff" opacity="0.55"/>
<rect x="1145.9" y="349.15" width="15.3" height="27.65" fill="rgb(172, 172, 255)"/>
<rect x="1145.9" y="349.15" width="15.3" height="1.5" fill="#fff" opacity="0.55"/>
<rect x="1145.9" y="376.80" width="15.3" height="27.65" fill="rgb(190, 190, 255)"/>
<rect x="1145.9" y="376.80" width="15.3" height="1.5" fill="#fff" opacity="0.55"/>
<rect x="1145.9" y="404.45" width="15.3" height="27.65" fill="rgb(210, 210, 255)"/>
<rect x="1145.9" y="404.45" width="15.3" height="1.5" fill="#fff" opacity="0.55"/>
<rect x="1145.9" y="432.10" width="15.3" height="27.65" fill="rgb(228, 228, 255)"/>
<rect x="1145.9" y="432.10" width="15.3" height="1.5" fill="#fff" opacity="0.55"/>
<rect x="1145.9" y="459.75" width="15.3" height="27.65" fill="rgb(240, 240, 255)"/>
<rect x="1145.9" y="459.75" width="15.3" height="1.5" fill="#fff" opacity="0.55"/>
<rect x="1145.9" y="487.40" width="15.3" height="27.65" fill="rgb(255, 255, 255)"/>
<rect x="1145.9" y="487.40" width="15.3" height="1.5" fill="#fff" opacity="0.55"/>
<rect x="1145.9" y="515.05" width="15.3" height="27.65" fill="rgb(255, 238, 238)"/>
<rect x="1145.9" y="515.05" width="15.3" height="1.5" fill="#fff" opacity="0.55"/>
<rect x="1145.9" y="542.70" width="15.3" height="27.65" fill="rgb(255, 222, 222)"/>
<rect x="1145.9" y="542.70" width="15.3" height="1.5" fill="#fff" opacity="0.55"/>
<rect x="1145.9" y="570.35" width="15.3" height="27.65" fill="rgb(255, 200, 200)"/>
<rect x="1145.9" y="570.35" width="15.3" height="1.5" fill="#fff" opacity="0.55"/>
<rect x="1145.9" y="598.00" width="15.3" height="27.65" fill="rgb(255, 180, 180)"/>
<rect x="1145.9" y="598.00" width="15.3" height="1.5" fill="#fff" opacity="0.55"/>
<rect x="1145.9" y="625.65" width="15.3" height="27.65" fill="rgb(255, 155, 155)"/>
<rect x="1145.9" y="625.65" width="15.3" height="1.5" fill="#fff" opacity="0.55"/>
<rect x="1145.9" y="653.30" width="15.3" height="27.65" fill="rgb(255, 120, 120)"/>
<rect x="1145.9" y="653.30" width="15.3" height="1.5" fill="#fff" opacity="0.55"/>
<rect x="1145.9" y="680.95" width="15.3" height="27.65" fill="rgb(255, 100, 100)"/>
<rect x="1145.9" y="680.95" width="15.3" height="1.5" fill="#fff" opacity="0.55"/>
<rect x="1145.9" y="708.60" width="15.3" height="27.65" fill="rgb(255, 85, 85)"/>
<rect x="1145.9" y="708.60" width="15.3" height="1.5" fill="#fff" opacity="0.55"/>
<rect x="1145.9" y="736.25" width="15.3" height="27.65" fill="rgb(255, 68, 68)"/>
<rect x="1145.9" y="736.25" width="15.3" height="1.5" fill="#fff" opacity="0.55"/>
<rect x="1145.9" y="763.90" width="15.3" height="27.65" fill="rgb(255, 30, 30)"/>
<rect x="1145.9" y="763.90" width="15.3" height="1.5" fill="#fff" opacity="0.55"/>
<rect x="1145.9" y="791.55" width="15.3" height="27.65" fill="rgb(255, 0, 0)"/>
<rect x="1145.9" y="791.55" width="15.3" height="1.5" fill="#fff" opacity="0.55"/>
<rect x="1145.9" y="819.20" width="15.3" height="27.65" fill="rgb(215, 0, 0)"/>
<rect x="1145.9" y="819.20" width="15.3" height="1.5" fill="#fff" opacity="0.55"/>
<rect x="1145.9" y="846.85" width="15.3" height="27.65" fill="rgb(170, 0, 0)"/>
<rect x="1145.9" y="846.85" width="15.3" height="1.5" fill="#fff" opacity="0.55"/>
<rect x="1145.9" y="874.50" width="15.3" height="27.65" fill="rgb(100, 0, 0)"/>
<rect x="1145.9" y="874.50" width="15.3" height="1.5" fill="#fff" opacity="0.55"/>
<text x="1166.3" y="131.80" class="cb" textLength="29.2" lengthAdjust="spacingAndGlyphs">1050</text>
<text x="1166.3" y="159.45" class="cb" textLength="29.2" lengthAdjust="spacingAndGlyphs">1040</text>
<text x="1166.3" y="187.10" class="cb" textLength="29.2" lengthAdjust="spacingAndGlyphs">1035</text>
<text x="1166.3" y="214.75" class="cb" textLength="29.2" lengthAdjust="spacingAndGlyphs">1030</text>
<text x="1166.3" y="242.40" class="cb" textLength="29.2" lengthAdjust="spacingAndGlyphs">1028</text>
<text x="1166.3" y="270.05" class="cb" textLength="29.2" lengthAdjust="spacingAndGlyphs">1025</text>
<text x="1166.3" y="297.70" class="cb" textLength="29.2" lengthAdjust="spacingAndGlyphs">1022</text>
<text x="1166.3" y="325.35" class="cb" textLength="29.2" lengthAdjust="spacingAndGlyphs">1020</text>
<text x="1166.3" y="353.00" class="cb" textLength="29.2" lengthAdjust="spacingAndGlyphs">1019</text>
<text x="1166.3" y="380.65" class="cb" textLength="29.2" lengthAdjust="spacingAndGlyphs">1018</text>
<text x="1166.3" y="408.30" class="cb" textLength="29.2" lengthAdjust="spacingAndGlyphs">1017</text>
<text x="1166.3" y="435.95" class="cb" textLength="29.2" lengthAdjust="spacingAndGlyphs">1016</text>
<text x="1166.3" y="463.60" class="cb" textLength="29.2" lengthAdjust="spacingAndGlyphs">1015</text>
<text x="1166.3" y="491.25" class="cb" textLength="29.2" lengthAdjust="spacingAndGlyphs">1014</text>
<text x="1166.3" y="518.90" class="cb" textLength="29.2" lengthAdjust="spacingAndGlyphs">1013</text>
<text x="1166.3" y="546.55" class="cb" textLength="29.2" lengthAdjust="spacingAndGlyphs">1012</text>
<text x="1166.3" y="574.20" class="cb" textLength="29.2" lengthAdjust="spacingAndGlyphs">1010</text>
<text x="1166.3" y="601.85" class="cb" textLength="29.2" lengthAdjust="spacingAndGlyphs">1008</text>
<text x="1166.3" y="629.50" class="cb" textLength="29.2" lengthAdjust="spacingAndGlyphs">1006</text>
<text x="1166.3" y="657.15" class="cb" textLength="29.2" lengthAdjust="spacingAndGlyphs">1004</text>
<text x="1166.3" y="684.80" class="cb" textLength="29.2" lengthAdjust="spacingAndGlyphs">1002</text>
<text x="1166.3" y="712.45" class="cb" textLength="29.2" lengthAdjust="spacingAndGlyphs">1000</text>
<text x="1166.3" y="740.10" class="cb" textLength="21.9" lengthAdjust="spacingAndGlyphs">990</text>
<text x="1166.3" y="767.75" class="cb" textLength="21.9" lengthAdjust="spacingAndGlyphs">970</text>
<text x="1166.3" y="795.40" class="cb" textLength="21.9" lengthAdjust="spacingAndGlyphs">950</text>
<text x="1166.3" y="823.05" class="cb" textLength="21.9" lengthAdjust="spacingAndGlyphs">900</text>
<text x="1166.3" y="850.70" class="cb" textLength="21.9" lengthAdjust="spacingAndGlyphs">850</text>
<text x="1166.3" y="878.35" class="cb" textLength="21.9" lengthAdjust="spacingAndGlyphs">800</text>
</svg>
</body></html>
